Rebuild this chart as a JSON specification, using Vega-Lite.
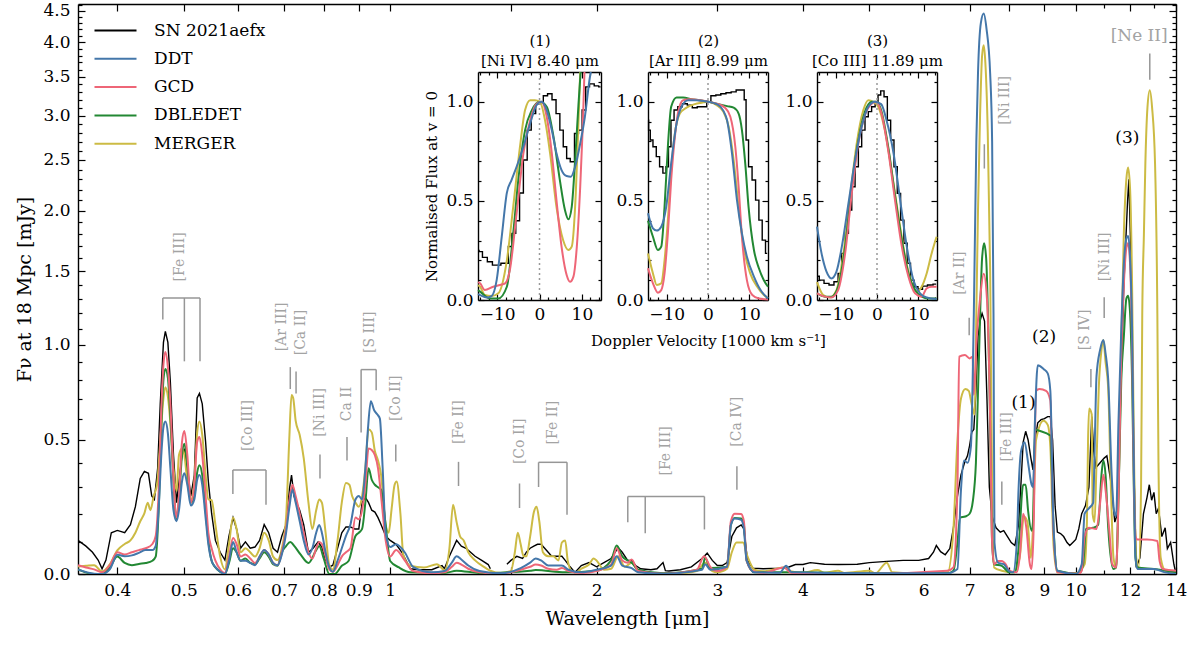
{
  "$schema": "https://vega.github.io/schema/vega-lite/v6.json",
  "width": 1098,
  "height": 570,
  "autosize": {"type": "none"},
  "padding": {"left": 78, "top": 4, "right": 24, "bottom": 79},
  "background": "white",
  "config": {
    "view": {"stroke": null},
    "font": "DejaVu Serif",
    "axis": {
      "grid": false,
      "domainColor": "#000000",
      "domainWidth": 1.4,
      "tickColor": "#000000",
      "tickWidth": 1.2,
      "labelFont": "DejaVu Serif",
      "labelFontSize": 17,
      "labelColor": "#000000",
      "labelOverlap": false,
      "labelFlush": false,
      "titleFont": "DejaVu Serif",
      "titleFontWeight": "normal",
      "titleColor": "#000000"
    },
    "legend": {
      "orient": "none",
      "legendX": 17,
      "legendY": 18,
      "symbolType": "M-3,0H3",
      "symbolSize": 196,
      "symbolStrokeWidth": 2,
      "symbolOffset": 12,
      "labelOffset": 30,
      "labelFont": "DejaVu Serif",
      "labelFontSize": 17,
      "labelColor": "#000000",
      "rowPadding": 10.3
    }
  },
  "datasets": {
    "obs": [
      {"s":"SN 2021aefx","w":0.3505,"f":0.107},{"s":"SN 2021aefx","w":0.36,"f":0.088},{"s":"SN 2021aefx","w":0.368,"f":0.068},{"s":"SN 2021aefx","w":0.375,"f":0.043},{"s":"SN 2021aefx","w":0.38,"f":0.016},{"s":"SN 2021aefx","w":0.385,"f":0.043},{"s":"SN 2021aefx","w":0.392,"f":0.133},{"s":"SN 2021aefx","w":0.4,"f":0.141},{"s":"SN 2021aefx","w":0.41,"f":0.133},{"s":"SN 2021aefx","w":0.418,"f":0.161},{"s":"SN 2021aefx","w":0.425,"f":0.226},{"s":"SN 2021aefx","w":0.432,"f":0.335},{"s":"SN 2021aefx","w":0.438,"f":0.364},{"s":"SN 2021aefx","w":0.444,"f":0.356},{"s":"SN 2021aefx","w":0.449,"f":0.266},{"s":"SN 2021aefx","w":0.453,"f":0.253},{"s":"SN 2021aefx","w":0.458,"f":0.377},{"s":"SN 2021aefx","w":0.462,"f":0.673},{"s":"SN 2021aefx","w":0.467,"f":1.015},{"s":"SN 2021aefx","w":0.47,"f":1.083},{"s":"SN 2021aefx","w":0.474,"f":1.015},{"s":"SN 2021aefx","w":0.478,"f":0.785},{"s":"SN 2021aefx","w":0.483,"f":0.433},{"s":"SN 2021aefx","w":0.488,"f":0.241},{"s":"SN 2021aefx","w":0.492,"f":0.323},{"s":"SN 2021aefx","w":0.497,"f":0.433},{"s":"SN 2021aefx","w":0.501,"f":0.455},{"s":"SN 2021aefx","w":0.506,"f":0.377},{"s":"SN 2021aefx","w":0.512,"f":0.266},{"s":"SN 2021aefx","w":0.518,"f":0.349},{"s":"SN 2021aefx","w":0.523,"f":0.703},{"s":"SN 2021aefx","w":0.527,"f":0.727},{"s":"SN 2021aefx","w":0.532,"f":0.673},{"s":"SN 2021aefx","w":0.538,"f":0.492},{"s":"SN 2021aefx","w":0.543,"f":0.323},{"s":"SN 2021aefx","w":0.549,"f":0.201},{"s":"SN 2021aefx","w":0.556,"f":0.107},{"s":"SN 2021aefx","w":0.565,"f":0.068},{"s":"SN 2021aefx","w":0.574,"f":0.043},{"s":"SN 2021aefx","w":0.582,"f":0.122},{"s":"SN 2021aefx","w":0.59,"f":0.186},{"s":"SN 2021aefx","w":0.597,"f":0.146},{"s":"SN 2021aefx","w":0.605,"f":0.081},{"s":"SN 2021aefx","w":0.615,"f":0.102},{"s":"SN 2021aefx","w":0.625,"f":0.081},{"s":"SN 2021aefx","w":0.635,"f":0.085},{"s":"SN 2021aefx","w":0.645,"f":0.107},{"s":"SN 2021aefx","w":0.655,"f":0.161},{"s":"SN 2021aefx","w":0.665,"f":0.133},{"s":"SN 2021aefx","w":0.675,"f":0.081},{"s":"SN 2021aefx","w":0.685,"f":0.068},{"s":"SN 2021aefx","w":0.695,"f":0.122},{"s":"SN 2021aefx","w":0.705,"f":0.161},{"s":"SN 2021aefx","w":0.713,"f":0.294},{"s":"SN 2021aefx","w":0.718,"f":0.349},{"s":"SN 2021aefx","w":0.724,"f":0.266},{"s":"SN 2021aefx","w":0.73,"f":0.241},{"s":"SN 2021aefx","w":0.738,"f":0.213},{"s":"SN 2021aefx","w":0.748,"f":0.161},{"s":"SN 2021aefx","w":0.76,"f":0.068},{"s":"SN 2021aefx","w":0.772,"f":0.081},{"s":"SN 2021aefx","w":0.785,"f":0.102},{"s":"SN 2021aefx","w":0.795,"f":0.085},{"s":"SN 2021aefx","w":0.805,"f":0.043},{"s":"SN 2021aefx","w":0.815,"f":0.021},{"s":"SN 2021aefx","w":0.825,"f":0.027},{"s":"SN 2021aefx","w":0.838,"f":0.081},{"s":"SN 2021aefx","w":0.85,"f":0.133},{"s":"SN 2021aefx","w":0.862,"f":0.153},{"s":"SN 2021aefx","w":0.875,"f":0.153},{"s":"SN 2021aefx","w":0.888,"f":0.146},{"s":"SN 2021aefx","w":0.9,"f":0.146},{"s":"SN 2021aefx","w":0.91,"f":0.241},{"s":"SN 2021aefx","w":0.92,"f":0.261},{"s":"SN 2021aefx","w":0.93,"f":0.241},{"s":"SN 2021aefx","w":0.94,"f":0.213},{"s":"SN 2021aefx","w":0.95,"f":0.206},{"s":"SN 2021aefx","w":0.96,"f":0.186},{"s":"SN 2021aefx","w":0.97,"f":0.161},{"s":"SN 2021aefx","w":0.985,"f":0.122},{"s":"SN 2021aefx","w":1.0,"f":0.107},{"s":"SN 2021aefx","w":1.02,"f":0.094},{"s":"SN 2021aefx","w":1.04,"f":0.068},{"s":"SN 2021aefx","w":1.07,"f":0.016},{"s":"SN 2021aefx","w":1.1,"f":0.013},{"s":"SN 2021aefx","w":1.15,"f":0.013},{"s":"SN 2021aefx","w":1.19,"f":0.026},{"s":"SN 2021aefx","w":1.2,"f":0.016},{"s":"SN 2021aefx","w":1.22,"f":0.055},{"s":"SN 2021aefx","w":1.235,"f":0.081},{"s":"SN 2021aefx","w":1.25,"f":0.107},{"s":"SN 2021aefx","w":1.27,"f":0.088},{"s":"SN 2021aefx","w":1.29,"f":0.081},{"s":"SN 2021aefx","w":1.31,"f":0.068},{"s":"SN 2021aefx","w":1.33,"f":0.055},{"s":"SN 2021aefx","w":1.36,"f":0.042},{"s":"SN 2021aefx","w":1.39,"f":0.029},{"s":"SN 2021aefx","w":1.4,"f":0.016},{"s":"SN 2021aefx","w":1.44,"f":null},{"s":"SN 2021aefx","w":1.48,"f":0.03},{"s":"SN 2021aefx","w":1.5,"f":0.042},{"s":"SN 2021aefx","w":1.53,"f":0.055},{"s":"SN 2021aefx","w":1.56,"f":0.048},{"s":"SN 2021aefx","w":1.58,"f":0.068},{"s":"SN 2021aefx","w":1.6,"f":0.081},{"s":"SN 2021aefx","w":1.62,"f":0.088},{"s":"SN 2021aefx","w":1.64,"f":0.094},{"s":"SN 2021aefx","w":1.66,"f":0.094},{"s":"SN 2021aefx","w":1.68,"f":0.081},{"s":"SN 2021aefx","w":1.7,"f":0.068},{"s":"SN 2021aefx","w":1.72,"f":0.055},{"s":"SN 2021aefx","w":1.75,"f":0.055},{"s":"SN 2021aefx","w":1.78,"f":0.055},{"s":"SN 2021aefx","w":1.8,"f":0.042},{"s":"SN 2021aefx","w":1.83,"f":0.022},{"s":"SN 2021aefx","w":1.86,"f":0.005},{"s":"SN 2021aefx","w":1.9,"f":0.026},{"s":"SN 2021aefx","w":1.95,"f":0.035},{"s":"SN 2021aefx","w":2.0,"f":0.022},{"s":"SN 2021aefx","w":2.05,"f":0.035},{"s":"SN 2021aefx","w":2.1,"f":0.048},{"s":"SN 2021aefx","w":2.15,"f":0.083},{"s":"SN 2021aefx","w":2.18,"f":0.068},{"s":"SN 2021aefx","w":2.22,"f":0.042},{"s":"SN 2021aefx","w":2.25,"f":0.042},{"s":"SN 2021aefx","w":2.28,"f":0.026},{"s":"SN 2021aefx","w":2.32,"f":0.016},{"s":"SN 2021aefx","w":2.4,"f":0.013},{"s":"SN 2021aefx","w":2.45,"f":0.016},{"s":"SN 2021aefx","w":2.5,"f":0.035},{"s":"SN 2021aefx","w":2.52,"f":0.01},{"s":"SN 2021aefx","w":2.55,"f":0.009},{"s":"SN 2021aefx","w":2.65,"f":0.013},{"s":"SN 2021aefx","w":2.75,"f":0.022},{"s":"SN 2021aefx","w":2.85,"f":0.048},{"s":"SN 2021aefx","w":2.9,"f":0.065},{"s":"SN 2021aefx","w":2.95,"f":0.042},{"s":"SN 2021aefx","w":3.0,"f":0.026},{"s":"SN 2021aefx","w":3.05,"f":0.026},{"s":"SN 2021aefx","w":3.1,"f":0.035},{"s":"SN 2021aefx","w":3.15,"f":0.12},{"s":"SN 2021aefx","w":3.2,"f":0.15},{"s":"SN 2021aefx","w":3.25,"f":0.16},{"s":"SN 2021aefx","w":3.28,"f":0.146},{"s":"SN 2021aefx","w":3.32,"f":0.042},{"s":"SN 2021aefx","w":3.38,"f":0.018},{"s":"SN 2021aefx","w":3.5,"f":0.016},{"s":"SN 2021aefx","w":3.7,"f":0.018},{"s":"SN 2021aefx","w":3.8,"f":0.02},{"s":"SN 2021aefx","w":3.9,"f":0.029},{"s":"SN 2021aefx","w":4.0,"f":0.029},{"s":"SN 2021aefx","w":4.1,"f":0.035},{"s":"SN 2021aefx","w":4.3,"f":0.03},{"s":"SN 2021aefx","w":4.5,"f":0.029},{"s":"SN 2021aefx","w":4.8,"f":0.03},{"s":"SN 2021aefx","w":5.0,"f":0.035},{"s":"SN 2021aefx","w":5.3,"f":0.039},{"s":"SN 2021aefx","w":5.6,"f":0.042},{"s":"SN 2021aefx","w":5.9,"f":0.042},{"s":"SN 2021aefx","w":6.1,"f":0.048},{"s":"SN 2021aefx","w":6.2,"f":0.068},{"s":"SN 2021aefx","w":6.26,"f":0.09},{"s":"SN 2021aefx","w":6.35,"f":0.07},{"s":"SN 2021aefx","w":6.45,"f":0.06},{"s":"SN 2021aefx","w":6.55,"f":0.08},{"s":"SN 2021aefx","w":6.63,"f":0.15},{"s":"SN 2021aefx","w":6.72,"f":0.266},{"s":"SN 2021aefx","w":6.8,"f":0.35},{"s":"SN 2021aefx","w":6.89,"f":0.405},{"s":"SN 2021aefx","w":6.95,"f":0.43},{"s":"SN 2021aefx","w":7.0,"f":0.475},{"s":"SN 2021aefx","w":7.05,"f":0.535},{"s":"SN 2021aefx","w":7.1,"f":0.549},{"s":"SN 2021aefx","w":7.15,"f":0.736},{"s":"SN 2021aefx","w":7.2,"f":1.05},{"s":"SN 2021aefx","w":7.25,"f":1.15},{"s":"SN 2021aefx","w":7.3,"f":1.2},{"s":"SN 2021aefx","w":7.36,"f":1.15},{"s":"SN 2021aefx","w":7.42,"f":0.7},{"s":"SN 2021aefx","w":7.48,"f":0.3},{"s":"SN 2021aefx","w":7.55,"f":0.19},{"s":"SN 2021aefx","w":7.65,"f":0.15},{"s":"SN 2021aefx","w":7.76,"f":0.135},{"s":"SN 2021aefx","w":7.85,"f":0.14},{"s":"SN 2021aefx","w":7.95,"f":0.12},{"s":"SN 2021aefx","w":8.05,"f":0.1},{"s":"SN 2021aefx","w":8.15,"f":0.09},{"s":"SN 2021aefx","w":8.25,"f":0.16},{"s":"SN 2021aefx","w":8.32,"f":0.32},{"s":"SN 2021aefx","w":8.38,"f":0.49},{"s":"SN 2021aefx","w":8.45,"f":0.54},{"s":"SN 2021aefx","w":8.52,"f":0.5},{"s":"SN 2021aefx","w":8.6,"f":0.42},{"s":"SN 2021aefx","w":8.66,"f":0.37},{"s":"SN 2021aefx","w":8.72,"f":0.5},{"s":"SN 2021aefx","w":8.8,"f":0.58},{"s":"SN 2021aefx","w":8.9,"f":0.595},{"s":"SN 2021aefx","w":9.0,"f":0.6},{"s":"SN 2021aefx","w":9.1,"f":0.61},{"s":"SN 2021aefx","w":9.18,"f":0.61},{"s":"SN 2021aefx","w":9.25,"f":0.5},{"s":"SN 2021aefx","w":9.33,"f":0.226},{"s":"SN 2021aefx","w":9.4,"f":0.135},{"s":"SN 2021aefx","w":9.5,"f":0.13},{"s":"SN 2021aefx","w":9.6,"f":0.12},{"s":"SN 2021aefx","w":9.71,"f":0.1},{"s":"SN 2021aefx","w":9.8,"f":0.09},{"s":"SN 2021aefx","w":9.9,"f":0.1},{"s":"SN 2021aefx","w":10.0,"f":0.11},{"s":"SN 2021aefx","w":10.1,"f":0.146},{"s":"SN 2021aefx","w":10.2,"f":0.2},{"s":"SN 2021aefx","w":10.33,"f":0.23},{"s":"SN 2021aefx","w":10.45,"f":0.3},{"s":"SN 2021aefx","w":10.55,"f":0.61},{"s":"SN 2021aefx","w":10.62,"f":0.45},{"s":"SN 2021aefx","w":10.7,"f":0.38},{"s":"SN 2021aefx","w":10.85,"f":0.4},{"s":"SN 2021aefx","w":11.0,"f":0.42},{"s":"SN 2021aefx","w":11.1,"f":0.43},{"s":"SN 2021aefx","w":11.25,"f":0.32},{"s":"SN 2021aefx","w":11.4,"f":0.17},{"s":"SN 2021aefx","w":11.5,"f":0.2},{"s":"SN 2021aefx","w":11.6,"f":0.6},{"s":"SN 2021aefx","w":11.75,"f":1.4},{"s":"SN 2021aefx","w":11.9,"f":2.1},{"s":"SN 2021aefx","w":11.95,"f":2.3},{"s":"SN 2021aefx","w":12.05,"f":1.5},{"s":"SN 2021aefx","w":12.15,"f":0.4},{"s":"SN 2021aefx","w":12.25,"f":0.02},{"s":"SN 2021aefx","w":12.4,"f":0.05},{"s":"SN 2021aefx","w":12.55,"f":0.2},{"s":"SN 2021aefx","w":12.7,"f":0.26},{"s":"SN 2021aefx","w":12.8,"f":0.31},{"s":"SN 2021aefx","w":12.9,"f":0.25},{"s":"SN 2021aefx","w":13.0,"f":0.28},{"s":"SN 2021aefx","w":13.1,"f":0.2},{"s":"SN 2021aefx","w":13.2,"f":0.22},{"s":"SN 2021aefx","w":13.35,"f":0.12},{"s":"SN 2021aefx","w":13.5,"f":0.15},{"s":"SN 2021aefx","w":13.6,"f":0.08},{"s":"SN 2021aefx","w":13.75,"f":0.1},{"s":"SN 2021aefx","w":13.9,"f":0.03},{"s":"SN 2021aefx","w":14.0,"f":0.0}
    ],
    "mod": [
      {"s":"MERGER","w":0.3505,"f":0.023},{"s":"MERGER","w":0.36,"f":0.025},{"s":"MERGER","w":0.37,"f":0.027},{"s":"MERGER","w":0.38,"f":0.008},{"s":"MERGER","w":0.39,"f":0.03},{"s":"MERGER","w":0.4,"f":0.074},{"s":"MERGER","w":0.41,"f":0.095},{"s":"MERGER","w":0.418,"f":0.107},{"s":"MERGER","w":0.425,"f":0.133},{"s":"MERGER","w":0.432,"f":0.173},{"s":"MERGER","w":0.438,"f":0.201},{"s":"MERGER","w":0.443,"f":0.241},{"s":"MERGER","w":0.447,"f":0.213},{"s":"MERGER","w":0.452,"f":0.266},{"s":"MERGER","w":0.457,"f":0.31},{"s":"MERGER","w":0.462,"f":0.492},{"s":"MERGER","w":0.467,"f":0.703},{"s":"MERGER","w":0.47,"f":0.76},{"s":"MERGER","w":0.474,"f":0.71},{"s":"MERGER","w":0.478,"f":0.58},{"s":"MERGER","w":0.483,"f":0.377},{"s":"MERGER","w":0.488,"f":0.286},{"s":"MERGER","w":0.492,"f":0.433},{"s":"MERGER","w":0.497,"f":0.462},{"s":"MERGER","w":0.501,"f":0.433},{"s":"MERGER","w":0.506,"f":0.323},{"s":"MERGER","w":0.512,"f":0.253},{"s":"MERGER","w":0.518,"f":0.323},{"s":"MERGER","w":0.523,"f":0.535},{"s":"MERGER","w":0.527,"f":0.586},{"s":"MERGER","w":0.532,"f":0.523},{"s":"MERGER","w":0.538,"f":0.349},{"s":"MERGER","w":0.543,"f":0.253},{"s":"MERGER","w":0.549,"f":0.25},{"s":"MERGER","w":0.556,"f":0.161},{"s":"MERGER","w":0.565,"f":0.054},{"s":"MERGER","w":0.574,"f":0.014},{"s":"MERGER","w":0.582,"f":0.095},{"s":"MERGER","w":0.59,"f":0.186},{"s":"MERGER","w":0.597,"f":0.146},{"s":"MERGER","w":0.605,"f":0.068},{"s":"MERGER","w":0.615,"f":0.081},{"s":"MERGER","w":0.625,"f":0.068},{"s":"MERGER","w":0.635,"f":0.054},{"s":"MERGER","w":0.645,"f":0.081},{"s":"MERGER","w":0.655,"f":0.133},{"s":"MERGER","w":0.665,"f":0.107},{"s":"MERGER","w":0.675,"f":0.054},{"s":"MERGER","w":0.685,"f":0.043},{"s":"MERGER","w":0.695,"f":0.081},{"s":"MERGER","w":0.705,"f":0.186},{"s":"MERGER","w":0.713,"f":0.523},{"s":"MERGER","w":0.718,"f":0.719},{"s":"MERGER","w":0.722,"f":0.703},{"s":"MERGER","w":0.728,"f":0.59},{"s":"MERGER","w":0.738,"f":0.523},{"s":"MERGER","w":0.748,"f":0.42},{"s":"MERGER","w":0.76,"f":0.241},{"s":"MERGER","w":0.77,"f":0.146},{"s":"MERGER","w":0.78,"f":0.213},{"s":"MERGER","w":0.788,"f":0.253},{"s":"MERGER","w":0.795,"f":0.241},{"s":"MERGER","w":0.805,"f":0.133},{"s":"MERGER","w":0.815,"f":0.027},{"s":"MERGER","w":0.825,"f":0.014},{"s":"MERGER","w":0.838,"f":0.107},{"s":"MERGER","w":0.85,"f":0.241},{"s":"MERGER","w":0.862,"f":0.317},{"s":"MERGER","w":0.872,"f":0.31},{"s":"MERGER","w":0.88,"f":0.266},{"s":"MERGER","w":0.89,"f":0.241},{"s":"MERGER","w":0.9,"f":0.226},{"s":"MERGER","w":0.91,"f":0.266},{"s":"MERGER","w":0.92,"f":0.377},{"s":"MERGER","w":0.93,"f":0.549},{"s":"MERGER","w":0.94,"f":0.535},{"s":"MERGER","w":0.95,"f":0.45},{"s":"MERGER","w":0.96,"f":0.41},{"s":"MERGER","w":0.97,"f":0.349},{"s":"MERGER","w":0.985,"f":0.161},{"s":"MERGER","w":0.995,"f":0.133},{"s":"MERGER","w":1.005,"f":0.22},{"s":"MERGER","w":1.015,"f":0.31},{"s":"MERGER","w":1.022,"f":0.323},{"s":"MERGER","w":1.035,"f":0.2},{"s":"MERGER","w":1.045,"f":0.06},{"s":"MERGER","w":1.07,"f":0.025},{"s":"MERGER","w":1.12,"f":0.02},{"s":"MERGER","w":1.17,"f":0.03},{"s":"MERGER","w":1.2,"f":0.012},{"s":"MERGER","w":1.22,"f":0.08},{"s":"MERGER","w":1.235,"f":0.233},{"s":"MERGER","w":1.25,"f":0.17},{"s":"MERGER","w":1.265,"f":0.12},{"s":"MERGER","w":1.28,"f":0.107},{"s":"MERGER","w":1.3,"f":0.068},{"s":"MERGER","w":1.33,"f":0.042},{"s":"MERGER","w":1.37,"f":0.022},{"s":"MERGER","w":1.4,"f":0.01},{"s":"MERGER","w":1.45,"f":0.003},{"s":"MERGER","w":1.5,"f":0.009},{"s":"MERGER","w":1.52,"f":0.068},{"s":"MERGER","w":1.535,"f":0.133},{"s":"MERGER","w":1.55,"f":0.094},{"s":"MERGER","w":1.565,"f":0.055},{"s":"MERGER","w":1.58,"f":0.055},{"s":"MERGER","w":1.6,"f":0.12},{"s":"MERGER","w":1.62,"f":0.205},{"s":"MERGER","w":1.635,"f":0.226},{"s":"MERGER","w":1.65,"f":0.173},{"s":"MERGER","w":1.67,"f":0.068},{"s":"MERGER","w":1.7,"f":0.055},{"s":"MERGER","w":1.73,"f":0.055},{"s":"MERGER","w":1.76,"f":0.042},{"s":"MERGER","w":1.78,"f":0.1},{"s":"MERGER","w":1.8,"f":0.107},{"s":"MERGER","w":1.815,"f":0.042},{"s":"MERGER","w":1.84,"f":0.009},{"s":"MERGER","w":1.87,"f":0.005},{"s":"MERGER","w":1.9,"f":0.016},{"s":"MERGER","w":1.95,"f":0.029},{"s":"MERGER","w":1.98,"f":0.048},{"s":"MERGER","w":2.0,"f":0.042},{"s":"MERGER","w":2.05,"f":0.013},{"s":"MERGER","w":2.1,"f":0.016},{"s":"MERGER","w":2.15,"f":0.055},{"s":"MERGER","w":2.2,"f":0.022},{"s":"MERGER","w":2.25,"f":0.035},{"s":"MERGER","w":2.3,"f":0.009},{"s":"MERGER","w":2.4,"f":0.003},{"s":"MERGER","w":2.6,"f":0.001},{"s":"MERGER","w":2.8,"f":0.009},{"s":"MERGER","w":2.88,"f":0.035},{"s":"MERGER","w":2.95,"f":0.009},{"s":"MERGER","w":3.0,"f":0.005},{"s":"MERGER","w":3.1,"f":0.016},{"s":"MERGER","w":3.15,"f":0.068},{"s":"MERGER","w":3.2,"f":0.1},{"s":"MERGER","w":3.27,"f":0.1},{"s":"MERGER","w":3.32,"f":0.055},{"s":"MERGER","w":3.4,"f":0.013},{"s":"MERGER","w":3.5,"f":0.008},{"s":"MERGER","w":3.7,"f":0.018},{"s":"MERGER","w":3.75,"f":0.02},{"s":"MERGER","w":3.85,"f":0.008},{"s":"MERGER","w":4.0,"f":0.004},{"s":"MERGER","w":4.2,"f":0.012},{"s":"MERGER","w":4.3,"f":0.004},{"s":"MERGER","w":4.5,"f":0.01},{"s":"MERGER","w":4.6,"f":0.003},{"s":"MERGER","w":5.0,"f":0.01},{"s":"MERGER","w":5.1,"f":0.002},{"s":"MERGER","w":5.3,"f":0.035},{"s":"MERGER","w":5.4,"f":0.005},{"s":"MERGER","w":5.8,"f":0.002},{"s":"MERGER","w":6.2,"f":0.003},{"s":"MERGER","w":6.5,"f":0.005},{"s":"MERGER","w":6.63,"f":0.146},{"s":"MERGER","w":6.72,"f":0.5},{"s":"MERGER","w":6.8,"f":0.7},{"s":"MERGER","w":6.9,"f":0.75},{"s":"MERGER","w":6.98,"f":0.74},{"s":"MERGER","w":7.05,"f":0.67},{"s":"MERGER","w":7.12,"f":0.62},{"s":"MERGER","w":7.16,"f":1.2},{"s":"MERGER","w":7.2,"f":2.0},{"s":"MERGER","w":7.25,"f":3.0},{"s":"MERGER","w":7.3,"f":3.8},{"s":"MERGER","w":7.34,"f":3.95},{"s":"MERGER","w":7.38,"f":3.7},{"s":"MERGER","w":7.44,"f":2.8},{"s":"MERGER","w":7.5,"f":1.5},{"s":"MERGER","w":7.55,"f":0.3},{"s":"MERGER","w":7.6,"f":0.02},{"s":"MERGER","w":7.8,"f":0.01},{"s":"MERGER","w":8.1,"f":0.005},{"s":"MERGER","w":8.28,"f":0.05},{"s":"MERGER","w":8.4,"f":0.19},{"s":"MERGER","w":8.5,"f":0.17},{"s":"MERGER","w":8.6,"f":0.05},{"s":"MERGER","w":8.66,"f":0.15},{"s":"MERGER","w":8.75,"f":0.5},{"s":"MERGER","w":8.97,"f":0.59},{"s":"MERGER","w":9.1,"f":0.57},{"s":"MERGER","w":9.18,"f":0.47},{"s":"MERGER","w":9.28,"f":0.09},{"s":"MERGER","w":9.4,"f":0.005},{"s":"MERGER","w":10.0,"f":0.002},{"s":"MERGER","w":10.3,"f":0.03},{"s":"MERGER","w":10.38,"f":0.17},{"s":"MERGER","w":10.42,"f":0.5},{"s":"MERGER","w":10.46,"f":0.65},{"s":"MERGER","w":10.55,"f":0.62},{"s":"MERGER","w":10.58,"f":0.2},{"s":"MERGER","w":10.65,"f":0.17},{"s":"MERGER","w":10.72,"f":0.4},{"s":"MERGER","w":10.8,"f":0.75},{"s":"MERGER","w":10.9,"f":0.97},{"s":"MERGER","w":10.97,"f":1.03},{"s":"MERGER","w":11.05,"f":0.9},{"s":"MERGER","w":11.15,"f":0.75},{"s":"MERGER","w":11.25,"f":0.3},{"s":"MERGER","w":11.35,"f":0.05},{"s":"MERGER","w":11.45,"f":0.02},{"s":"MERGER","w":11.55,"f":0.3},{"s":"MERGER","w":11.65,"f":1.0},{"s":"MERGER","w":11.75,"f":1.8},{"s":"MERGER","w":11.85,"f":2.3},{"s":"MERGER","w":11.92,"f":2.42},{"s":"MERGER","w":12.0,"f":2.2},{"s":"MERGER","w":12.08,"f":1.4},{"s":"MERGER","w":12.15,"f":0.5},{"s":"MERGER","w":12.25,"f":0.05},{"s":"MERGER","w":12.35,"f":0.02},{"s":"MERGER","w":12.45,"f":0.3},{"s":"MERGER","w":12.5,"f":1.2},{"s":"MERGER","w":12.57,"f":1.8},{"s":"MERGER","w":12.63,"f":2.45},{"s":"MERGER","w":12.72,"f":3.1},{"s":"MERGER","w":12.82,"f":3.32},{"s":"MERGER","w":12.92,"f":3.1},{"s":"MERGER","w":13.05,"f":2.45},{"s":"MERGER","w":13.15,"f":1.2},{"s":"MERGER","w":13.2,"f":0.4},{"s":"MERGER","w":13.3,"f":0.05},{"s":"MERGER","w":13.5,"f":0.01},{"s":"MERGER","w":14.0,"f":0.0},
      {"s":"DBLEDET","w":0.3505,"f":0.014},{"s":"DBLEDET","w":0.37,"f":0.0},{"s":"DBLEDET","w":0.38,"f":0.0},{"s":"DBLEDET","w":0.39,"f":0.02},{"s":"DBLEDET","w":0.4,"f":0.054},{"s":"DBLEDET","w":0.41,"f":0.034},{"s":"DBLEDET","w":0.42,"f":0.027},{"s":"DBLEDET","w":0.43,"f":0.031},{"s":"DBLEDET","w":0.44,"f":0.034},{"s":"DBLEDET","w":0.45,"f":0.041},{"s":"DBLEDET","w":0.455,"f":0.054},{"s":"DBLEDET","w":0.46,"f":0.241},{"s":"DBLEDET","w":0.464,"f":0.59},{"s":"DBLEDET","w":0.467,"f":0.8},{"s":"DBLEDET","w":0.47,"f":0.86},{"s":"DBLEDET","w":0.474,"f":0.81},{"s":"DBLEDET","w":0.478,"f":0.61},{"s":"DBLEDET","w":0.483,"f":0.323},{"s":"DBLEDET","w":0.488,"f":0.18},{"s":"DBLEDET","w":0.492,"f":0.253},{"s":"DBLEDET","w":0.497,"f":0.433},{"s":"DBLEDET","w":0.501,"f":0.483},{"s":"DBLEDET","w":0.506,"f":0.39},{"s":"DBLEDET","w":0.512,"f":0.241},{"s":"DBLEDET","w":0.518,"f":0.266},{"s":"DBLEDET","w":0.523,"f":0.36},{"s":"DBLEDET","w":0.527,"f":0.39},{"s":"DBLEDET","w":0.532,"f":0.349},{"s":"DBLEDET","w":0.538,"f":0.213},{"s":"DBLEDET","w":0.543,"f":0.107},{"s":"DBLEDET","w":0.549,"f":0.041},{"s":"DBLEDET","w":0.556,"f":0.02},{"s":"DBLEDET","w":0.565,"f":0.007},{"s":"DBLEDET","w":0.574,"f":0.0},{"s":"DBLEDET","w":0.582,"f":0.034},{"s":"DBLEDET","w":0.59,"f":0.081},{"s":"DBLEDET","w":0.597,"f":0.068},{"s":"DBLEDET","w":0.605,"f":0.041},{"s":"DBLEDET","w":0.615,"f":0.048},{"s":"DBLEDET","w":0.625,"f":0.034},{"s":"DBLEDET","w":0.635,"f":0.03},{"s":"DBLEDET","w":0.645,"f":0.048},{"s":"DBLEDET","w":0.655,"f":0.068},{"s":"DBLEDET","w":0.665,"f":0.054},{"s":"DBLEDET","w":0.675,"f":0.03},{"s":"DBLEDET","w":0.685,"f":0.025},{"s":"DBLEDET","w":0.695,"f":0.068},{"s":"DBLEDET","w":0.705,"f":0.088},{"s":"DBLEDET","w":0.715,"f":0.102},{"s":"DBLEDET","w":0.725,"f":0.088},{"s":"DBLEDET","w":0.74,"f":0.061},{"s":"DBLEDET","w":0.76,"f":0.034},{"s":"DBLEDET","w":0.78,"f":0.075},{"s":"DBLEDET","w":0.788,"f":0.088},{"s":"DBLEDET","w":0.8,"f":0.048},{"s":"DBLEDET","w":0.815,"f":0.0},{"s":"DBLEDET","w":0.83,"f":0.0},{"s":"DBLEDET","w":0.85,"f":0.025},{"s":"DBLEDET","w":0.87,"f":0.041},{"s":"DBLEDET","w":0.89,"f":0.122},{"s":"DBLEDET","w":0.9,"f":0.133},{"s":"DBLEDET","w":0.91,"f":0.146},{"s":"DBLEDET","w":0.92,"f":0.241},{"s":"DBLEDET","w":0.93,"f":0.377},{"s":"DBLEDET","w":0.94,"f":0.33},{"s":"DBLEDET","w":0.95,"f":0.31},{"s":"DBLEDET","w":0.96,"f":0.3},{"s":"DBLEDET","w":0.97,"f":0.29},{"s":"DBLEDET","w":0.985,"f":0.16},{"s":"DBLEDET","w":1.0,"f":0.04},{"s":"DBLEDET","w":1.03,"f":0.02},{"s":"DBLEDET","w":1.07,"f":0.005},{"s":"DBLEDET","w":1.2,"f":0.003},{"s":"DBLEDET","w":1.25,"f":0.01},{"s":"DBLEDET","w":1.35,"f":0.003},{"s":"DBLEDET","w":1.6,"f":0.01},{"s":"DBLEDET","w":1.63,"f":0.012},{"s":"DBLEDET","w":1.8,"f":0.005},{"s":"DBLEDET","w":2.0,"f":0.01},{"s":"DBLEDET","w":2.1,"f":0.042},{"s":"DBLEDET","w":2.14,"f":0.09},{"s":"DBLEDET","w":2.18,"f":0.055},{"s":"DBLEDET","w":2.22,"f":0.042},{"s":"DBLEDET","w":2.25,"f":0.035},{"s":"DBLEDET","w":2.3,"f":0.013},{"s":"DBLEDET","w":2.5,"f":0.002},{"s":"DBLEDET","w":2.85,"f":0.016},{"s":"DBLEDET","w":2.88,"f":0.05},{"s":"DBLEDET","w":2.93,"f":0.018},{"s":"DBLEDET","w":3.1,"f":0.022},{"s":"DBLEDET","w":3.14,"f":0.16},{"s":"DBLEDET","w":3.18,"f":0.185},{"s":"DBLEDET","w":3.25,"f":0.183},{"s":"DBLEDET","w":3.28,"f":0.16},{"s":"DBLEDET","w":3.31,"f":0.042},{"s":"DBLEDET","w":3.4,"f":0.005},{"s":"DBLEDET","w":3.8,"f":0.005},{"s":"DBLEDET","w":5.0,"f":0.002},{"s":"DBLEDET","w":6.5,"f":0.002},{"s":"DBLEDET","w":6.63,"f":0.01},{"s":"DBLEDET","w":6.72,"f":0.1},{"s":"DBLEDET","w":6.78,"f":0.186},{"s":"DBLEDET","w":6.9,"f":0.19},{"s":"DBLEDET","w":7.0,"f":0.2},{"s":"DBLEDET","w":7.08,"f":0.25},{"s":"DBLEDET","w":7.15,"f":0.4},{"s":"DBLEDET","w":7.22,"f":0.9},{"s":"DBLEDET","w":7.3,"f":1.6},{"s":"DBLEDET","w":7.35,"f":1.72},{"s":"DBLEDET","w":7.4,"f":1.6},{"s":"DBLEDET","w":7.48,"f":0.8},{"s":"DBLEDET","w":7.55,"f":0.1},{"s":"DBLEDET","w":7.6,"f":0.03},{"s":"DBLEDET","w":7.8,"f":0.025},{"s":"DBLEDET","w":8.0,"f":0.005},{"s":"DBLEDET","w":8.15,"f":0.005},{"s":"DBLEDET","w":8.25,"f":0.08},{"s":"DBLEDET","w":8.38,"f":0.31},{"s":"DBLEDET","w":8.45,"f":0.31},{"s":"DBLEDET","w":8.52,"f":0.21},{"s":"DBLEDET","w":8.62,"f":0.14},{"s":"DBLEDET","w":8.66,"f":0.17},{"s":"DBLEDET","w":8.72,"f":0.55},{"s":"DBLEDET","w":8.8,"f":0.545},{"s":"DBLEDET","w":9.18,"f":0.52},{"s":"DBLEDET","w":9.28,"f":0.15},{"s":"DBLEDET","w":9.4,"f":0.01},{"s":"DBLEDET","w":10.1,"f":0.001},{"s":"DBLEDET","w":10.25,"f":0.03},{"s":"DBLEDET","w":10.35,"f":0.146},{"s":"DBLEDET","w":10.6,"f":0.15},{"s":"DBLEDET","w":10.78,"f":0.16},{"s":"DBLEDET","w":10.9,"f":0.35},{"s":"DBLEDET","w":10.97,"f":0.41},{"s":"DBLEDET","w":11.05,"f":0.35},{"s":"DBLEDET","w":11.15,"f":0.15},{"s":"DBLEDET","w":11.34,"f":0.015},{"s":"DBLEDET","w":11.45,"f":0.02},{"s":"DBLEDET","w":11.55,"f":0.3},{"s":"DBLEDET","w":11.65,"f":0.8},{"s":"DBLEDET","w":11.75,"f":1.05},{"s":"DBLEDET","w":11.85,"f":1.3},{"s":"DBLEDET","w":11.92,"f":1.32},{"s":"DBLEDET","w":12.0,"f":1.2},{"s":"DBLEDET","w":12.08,"f":0.8},{"s":"DBLEDET","w":12.15,"f":0.3},{"s":"DBLEDET","w":12.22,"f":0.05},{"s":"DBLEDET","w":12.3,"f":0.02},{"s":"DBLEDET","w":13.0,"f":0.015},{"s":"DBLEDET","w":14.0,"f":0.005},
      {"s":"GCD","w":0.3505,"f":0.027},{"s":"GCD","w":0.36,"f":0.02},{"s":"GCD","w":0.37,"f":0.014},{"s":"GCD","w":0.38,"f":0.005},{"s":"GCD","w":0.39,"f":0.027},{"s":"GCD","w":0.4,"f":0.068},{"s":"GCD","w":0.41,"f":0.061},{"s":"GCD","w":0.42,"f":0.068},{"s":"GCD","w":0.43,"f":0.075},{"s":"GCD","w":0.44,"f":0.081},{"s":"GCD","w":0.45,"f":0.095},{"s":"GCD","w":0.455,"f":0.122},{"s":"GCD","w":0.46,"f":0.31},{"s":"GCD","w":0.464,"f":0.673},{"s":"GCD","w":0.467,"f":0.886},{"s":"GCD","w":0.47,"f":0.957},{"s":"GCD","w":0.474,"f":0.87},{"s":"GCD","w":0.478,"f":0.673},{"s":"GCD","w":0.483,"f":0.335},{"s":"GCD","w":0.488,"f":0.186},{"s":"GCD","w":0.492,"f":0.266},{"s":"GCD","w":0.497,"f":0.49},{"s":"GCD","w":0.501,"f":0.541},{"s":"GCD","w":0.506,"f":0.433},{"s":"GCD","w":0.512,"f":0.241},{"s":"GCD","w":0.518,"f":0.31},{"s":"GCD","w":0.523,"f":0.492},{"s":"GCD","w":0.527,"f":0.514},{"s":"GCD","w":0.532,"f":0.433},{"s":"GCD","w":0.538,"f":0.266},{"s":"GCD","w":0.543,"f":0.133},{"s":"GCD","w":0.549,"f":0.081},{"s":"GCD","w":0.556,"f":0.041},{"s":"GCD","w":0.565,"f":0.014},{"s":"GCD","w":0.574,"f":0.003},{"s":"GCD","w":0.582,"f":0.054},{"s":"GCD","w":0.59,"f":0.115},{"s":"GCD","w":0.597,"f":0.095},{"s":"GCD","w":0.605,"f":0.054},{"s":"GCD","w":0.615,"f":0.061},{"s":"GCD","w":0.625,"f":0.048},{"s":"GCD","w":0.635,"f":0.034},{"s":"GCD","w":0.645,"f":0.054},{"s":"GCD","w":0.655,"f":0.075},{"s":"GCD","w":0.665,"f":0.061},{"s":"GCD","w":0.675,"f":0.034},{"s":"GCD","w":0.685,"f":0.027},{"s":"GCD","w":0.695,"f":0.068},{"s":"GCD","w":0.705,"f":0.146},{"s":"GCD","w":0.713,"f":0.253},{"s":"GCD","w":0.72,"f":0.31},{"s":"GCD","w":0.728,"f":0.266},{"s":"GCD","w":0.738,"f":0.2},{"s":"GCD","w":0.748,"f":0.133},{"s":"GCD","w":0.76,"f":0.068},{"s":"GCD","w":0.77,"f":0.048},{"s":"GCD","w":0.78,"f":0.081},{"s":"GCD","w":0.788,"f":0.102},{"s":"GCD","w":0.795,"f":0.095},{"s":"GCD","w":0.805,"f":0.054},{"s":"GCD","w":0.815,"f":0.014},{"s":"GCD","w":0.825,"f":0.007},{"s":"GCD","w":0.838,"f":0.027},{"s":"GCD","w":0.85,"f":0.054},{"s":"GCD","w":0.862,"f":0.068},{"s":"GCD","w":0.875,"f":0.081},{"s":"GCD","w":0.89,"f":0.186},{"s":"GCD","w":0.9,"f":0.18},{"s":"GCD","w":0.91,"f":0.213},{"s":"GCD","w":0.92,"f":0.31},{"s":"GCD","w":0.93,"f":0.462},{"s":"GCD","w":0.94,"f":0.455},{"s":"GCD","w":0.95,"f":0.433},{"s":"GCD","w":0.96,"f":0.377},{"s":"GCD","w":0.97,"f":0.266},{"s":"GCD","w":0.985,"f":0.107},{"s":"GCD","w":1.0,"f":0.054},{"s":"GCD","w":1.02,"f":0.075},{"s":"GCD","w":1.05,"f":0.042},{"s":"GCD","w":1.08,"f":0.009},{"s":"GCD","w":1.15,"f":0.002},{"s":"GCD","w":1.2,"f":0.005},{"s":"GCD","w":1.23,"f":0.022},{"s":"GCD","w":1.25,"f":0.035},{"s":"GCD","w":1.27,"f":0.029},{"s":"GCD","w":1.3,"f":0.016},{"s":"GCD","w":1.35,"f":0.005},{"s":"GCD","w":1.45,"f":0.001},{"s":"GCD","w":1.5,"f":0.005},{"s":"GCD","w":1.55,"f":0.013},{"s":"GCD","w":1.6,"f":0.022},{"s":"GCD","w":1.63,"f":0.029},{"s":"GCD","w":1.66,"f":0.026},{"s":"GCD","w":1.7,"f":0.016},{"s":"GCD","w":1.75,"f":0.013},{"s":"GCD","w":1.78,"f":0.018},{"s":"GCD","w":1.82,"f":0.009},{"s":"GCD","w":1.9,"f":0.003},{"s":"GCD","w":2.0,"f":0.009},{"s":"GCD","w":2.1,"f":0.029},{"s":"GCD","w":2.14,"f":0.081},{"s":"GCD","w":2.18,"f":0.042},{"s":"GCD","w":2.22,"f":0.035},{"s":"GCD","w":2.25,"f":0.045},{"s":"GCD","w":2.3,"f":0.009},{"s":"GCD","w":2.5,"f":0.001},{"s":"GCD","w":2.8,"f":0.013},{"s":"GCD","w":2.87,"f":0.055},{"s":"GCD","w":2.93,"f":0.022},{"s":"GCD","w":3.0,"f":0.009},{"s":"GCD","w":3.1,"f":0.022},{"s":"GCD","w":3.14,"f":0.173},{"s":"GCD","w":3.18,"f":0.2},{"s":"GCD","w":3.25,"f":0.199},{"s":"GCD","w":3.28,"f":0.173},{"s":"GCD","w":3.31,"f":0.042},{"s":"GCD","w":3.38,"f":0.009},{"s":"GCD","w":3.5,"f":0.003},{"s":"GCD","w":3.75,"f":0.02},{"s":"GCD","w":3.85,"f":0.003},{"s":"GCD","w":5.0,"f":0.001},{"s":"GCD","w":6.49,"f":0.01},{"s":"GCD","w":6.63,"f":0.02},{"s":"GCD","w":6.72,"f":0.3},{"s":"GCD","w":6.76,"f":0.93},{"s":"GCD","w":6.89,"f":0.94},{"s":"GCD","w":7.0,"f":0.92},{"s":"GCD","w":7.07,"f":0.93},{"s":"GCD","w":7.1,"f":0.72},{"s":"GCD","w":7.17,"f":1.05},{"s":"GCD","w":7.25,"f":1.3},{"s":"GCD","w":7.34,"f":1.48},{"s":"GCD","w":7.42,"f":1.3},{"s":"GCD","w":7.5,"f":0.6},{"s":"GCD","w":7.55,"f":0.1},{"s":"GCD","w":7.6,"f":0.03},{"s":"GCD","w":7.7,"f":0.04},{"s":"GCD","w":7.8,"f":0.04},{"s":"GCD","w":7.9,"f":0.03},{"s":"GCD","w":8.0,"f":0.01},{"s":"GCD","w":8.2,"f":0.005},{"s":"GCD","w":8.28,"f":0.05},{"s":"GCD","w":8.38,"f":0.2},{"s":"GCD","w":8.47,"f":0.15},{"s":"GCD","w":8.57,"f":0.03},{"s":"GCD","w":8.62,"f":0.015},{"s":"GCD","w":8.68,"f":0.15},{"s":"GCD","w":8.75,"f":0.74},{"s":"GCD","w":8.85,"f":0.75},{"s":"GCD","w":9.05,"f":0.74},{"s":"GCD","w":9.18,"f":0.69},{"s":"GCD","w":9.28,"f":0.13},{"s":"GCD","w":9.4,"f":0.005},{"s":"GCD","w":10.1,"f":0.001},{"s":"GCD","w":10.2,"f":0.01},{"s":"GCD","w":10.3,"f":0.12},{"s":"GCD","w":10.45,"f":0.15},{"s":"GCD","w":10.72,"f":0.146},{"s":"GCD","w":10.85,"f":0.24},{"s":"GCD","w":10.97,"f":0.35},{"s":"GCD","w":11.05,"f":0.29},{"s":"GCD","w":11.2,"f":0.13},{"s":"GCD","w":11.3,"f":0.03},{"s":"GCD","w":11.45,"f":0.02},{"s":"GCD","w":11.55,"f":0.3},{"s":"GCD","w":11.65,"f":0.95},{"s":"GCD","w":11.75,"f":1.4},{"s":"GCD","w":11.85,"f":1.68},{"s":"GCD","w":11.92,"f":1.72},{"s":"GCD","w":12.0,"f":1.55},{"s":"GCD","w":12.08,"f":1.0},{"s":"GCD","w":12.15,"f":0.35},{"s":"GCD","w":12.22,"f":0.12},{"s":"GCD","w":12.3,"f":0.11},{"s":"GCD","w":12.7,"f":0.11},{"s":"GCD","w":13.15,"f":0.105},{"s":"GCD","w":13.25,"f":0.04},{"s":"GCD","w":13.4,"f":0.015},{"s":"GCD","w":14.0,"f":0.01},
      {"s":"DDT","w":0.3505,"f":0.014},{"s":"DDT","w":0.37,"f":0.001},{"s":"DDT","w":0.38,"f":0.0},{"s":"DDT","w":0.39,"f":0.014},{"s":"DDT","w":0.4,"f":0.06},{"s":"DDT","w":0.41,"f":0.055},{"s":"DDT","w":0.42,"f":0.058},{"s":"DDT","w":0.43,"f":0.066},{"s":"DDT","w":0.44,"f":0.075},{"s":"DDT","w":0.45,"f":0.075},{"s":"DDT","w":0.455,"f":0.089},{"s":"DDT","w":0.46,"f":0.24},{"s":"DDT","w":0.464,"f":0.45},{"s":"DDT","w":0.467,"f":0.56},{"s":"DDT","w":0.47,"f":0.586},{"s":"DDT","w":0.474,"f":0.53},{"s":"DDT","w":0.478,"f":0.377},{"s":"DDT","w":0.483,"f":0.213},{"s":"DDT","w":0.488,"f":0.173},{"s":"DDT","w":0.492,"f":0.213},{"s":"DDT","w":0.497,"f":0.323},{"s":"DDT","w":0.501,"f":0.356},{"s":"DDT","w":0.506,"f":0.31},{"s":"DDT","w":0.512,"f":0.23},{"s":"DDT","w":0.518,"f":0.253},{"s":"DDT","w":0.523,"f":0.33},{"s":"DDT","w":0.527,"f":0.349},{"s":"DDT","w":0.532,"f":0.31},{"s":"DDT","w":0.538,"f":0.186},{"s":"DDT","w":0.543,"f":0.095},{"s":"DDT","w":0.549,"f":0.041},{"s":"DDT","w":0.556,"f":0.021},{"s":"DDT","w":0.565,"f":0.007},{"s":"DDT","w":0.574,"f":0.0},{"s":"DDT","w":0.582,"f":0.041},{"s":"DDT","w":0.59,"f":0.102},{"s":"DDT","w":0.597,"f":0.068},{"s":"DDT","w":0.605,"f":0.041},{"s":"DDT","w":0.615,"f":0.041},{"s":"DDT","w":0.625,"f":0.034},{"s":"DDT","w":0.635,"f":0.027},{"s":"DDT","w":0.645,"f":0.054},{"s":"DDT","w":0.655,"f":0.075},{"s":"DDT","w":0.665,"f":0.061},{"s":"DDT","w":0.675,"f":0.034},{"s":"DDT","w":0.685,"f":0.027},{"s":"DDT","w":0.695,"f":0.061},{"s":"DDT","w":0.705,"f":0.133},{"s":"DDT","w":0.713,"f":0.226},{"s":"DDT","w":0.72,"f":0.29},{"s":"DDT","w":0.728,"f":0.241},{"s":"DDT","w":0.738,"f":0.173},{"s":"DDT","w":0.748,"f":0.107},{"s":"DDT","w":0.76,"f":0.061},{"s":"DDT","w":0.77,"f":0.081},{"s":"DDT","w":0.78,"f":0.133},{"s":"DDT","w":0.788,"f":0.16},{"s":"DDT","w":0.795,"f":0.133},{"s":"DDT","w":0.805,"f":0.068},{"s":"DDT","w":0.815,"f":0.021},{"s":"DDT","w":0.825,"f":0.007},{"s":"DDT","w":0.838,"f":0.041},{"s":"DDT","w":0.85,"f":0.081},{"s":"DDT","w":0.862,"f":0.122},{"s":"DDT","w":0.875,"f":0.161},{"s":"DDT","w":0.89,"f":0.253},{"s":"DDT","w":0.9,"f":0.266},{"s":"DDT","w":0.91,"f":0.253},{"s":"DDT","w":0.92,"f":0.377},{"s":"DDT","w":0.928,"f":0.55},{"s":"DDT","w":0.937,"f":0.687},{"s":"DDT","w":0.948,"f":0.64},{"s":"DDT","w":0.958,"f":0.62},{"s":"DDT","w":0.966,"f":0.6},{"s":"DDT","w":0.975,"f":0.38},{"s":"DDT","w":0.985,"f":0.133},{"s":"DDT","w":1.0,"f":0.085},{"s":"DDT","w":1.02,"f":0.094},{"s":"DDT","w":1.05,"f":0.068},{"s":"DDT","w":1.08,"f":0.022},{"s":"DDT","w":1.15,"f":0.005},{"s":"DDT","w":1.2,"f":0.009},{"s":"DDT","w":1.23,"f":0.035},{"s":"DDT","w":1.25,"f":0.055},{"s":"DDT","w":1.27,"f":0.045},{"s":"DDT","w":1.3,"f":0.026},{"s":"DDT","w":1.35,"f":0.009},{"s":"DDT","w":1.45,"f":0.002},{"s":"DDT","w":1.55,"f":0.018},{"s":"DDT","w":1.6,"f":0.035},{"s":"DDT","w":1.63,"f":0.048},{"s":"DDT","w":1.66,"f":0.042},{"s":"DDT","w":1.7,"f":0.026},{"s":"DDT","w":1.78,"f":0.026},{"s":"DDT","w":1.82,"f":0.013},{"s":"DDT","w":1.9,"f":0.005},{"s":"DDT","w":2.0,"f":0.013},{"s":"DDT","w":2.1,"f":0.026},{"s":"DDT","w":2.14,"f":0.055},{"s":"DDT","w":2.18,"f":0.026},{"s":"DDT","w":2.25,"f":0.018},{"s":"DDT","w":2.3,"f":0.005},{"s":"DDT","w":2.5,"f":0.001},{"s":"DDT","w":2.85,"f":0.013},{"s":"DDT","w":2.88,"f":0.03},{"s":"DDT","w":2.93,"f":0.013},{"s":"DDT","w":3.1,"f":0.022},{"s":"DDT","w":3.14,"f":0.16},{"s":"DDT","w":3.18,"f":0.183},{"s":"DDT","w":3.25,"f":0.178},{"s":"DDT","w":3.28,"f":0.146},{"s":"DDT","w":3.31,"f":0.042},{"s":"DDT","w":3.4,"f":0.005},{"s":"DDT","w":3.7,"f":0.004},{"s":"DDT","w":3.78,"f":0.025},{"s":"DDT","w":3.85,"f":0.005},{"s":"DDT","w":5.0,"f":0.002},{"s":"DDT","w":6.5,"f":0.002},{"s":"DDT","w":6.72,"f":0.015},{"s":"DDT","w":6.8,"f":0.29},{"s":"DDT","w":6.87,"f":0.41},{"s":"DDT","w":6.95,"f":0.4},{"s":"DDT","w":7.03,"f":0.47},{"s":"DDT","w":7.1,"f":1.2},{"s":"DDT","w":7.16,"f":2.7},{"s":"DDT","w":7.2,"f":3.55},{"s":"DDT","w":7.27,"f":4.3},{"s":"DDT","w":7.34,"f":4.45},{"s":"DDT","w":7.41,"f":4.2},{"s":"DDT","w":7.5,"f":3.55},{"s":"DDT","w":7.55,"f":2.7},{"s":"DDT","w":7.585,"f":1.2},{"s":"DDT","w":7.61,"f":0.1},{"s":"DDT","w":7.7,"f":0.035},{"s":"DDT","w":7.85,"f":0.03},{"s":"DDT","w":8.0,"f":0.008},{"s":"DDT","w":8.1,"f":0.005},{"s":"DDT","w":8.2,"f":0.094},{"s":"DDT","w":8.25,"f":0.29},{"s":"DDT","w":8.32,"f":0.45},{"s":"DDT","w":8.42,"f":0.49},{"s":"DDT","w":8.52,"f":0.4},{"s":"DDT","w":8.62,"f":0.31},{"s":"DDT","w":8.66,"f":0.3},{"s":"DDT","w":8.72,"f":0.6},{"s":"DDT","w":8.8,"f":0.88},{"s":"DDT","w":8.97,"f":0.86},{"s":"DDT","w":9.1,"f":0.835},{"s":"DDT","w":9.18,"f":0.74},{"s":"DDT","w":9.28,"f":0.15},{"s":"DDT","w":9.4,"f":0.01},{"s":"DDT","w":10.0,"f":0.0},{"s":"DDT","w":10.2,"f":0.03},{"s":"DDT","w":10.3,"f":0.2},{"s":"DDT","w":10.45,"f":0.22},{"s":"DDT","w":10.6,"f":0.24},{"s":"DDT","w":10.66,"f":0.5},{"s":"DDT","w":10.72,"f":0.82},{"s":"DDT","w":10.85,"f":0.97},{"s":"DDT","w":10.97,"f":1.03},{"s":"DDT","w":11.05,"f":0.95},{"s":"DDT","w":11.15,"f":0.8},{"s":"DDT","w":11.28,"f":0.35},{"s":"DDT","w":11.37,"f":0.21},{"s":"DDT","w":11.45,"f":0.19},{"s":"DDT","w":11.54,"f":0.58},{"s":"DDT","w":11.65,"f":1.1},{"s":"DDT","w":11.75,"f":1.55},{"s":"DDT","w":11.85,"f":1.76},{"s":"DDT","w":11.92,"f":1.78},{"s":"DDT","w":12.0,"f":1.6},{"s":"DDT","w":12.08,"f":1.1},{"s":"DDT","w":12.15,"f":0.4},{"s":"DDT","w":12.22,"f":0.05},{"s":"DDT","w":12.3,"f":0.015},{"s":"DDT","w":13.0,"f":0.015},{"s":"DDT","w":13.5,"f":0.005},{"s":"DDT","w":14.0,"f":0.0}
    ],
    "seg": [
      {"w":0.466,"w2":0.528,"f":1.305,"f2":1.305},{"w":0.466,"w2":0.466,"f":1.305,"f2":1.16},{"w":0.501,"w2":0.501,"f":1.305,"f2":0.903},{"w":0.528,"w2":0.528,"f":1.305,"f2":0.903},
      {"w":0.5896,"w2":0.659,"f":0.3694,"f2":0.3694},{"w":0.5896,"w2":0.5896,"f":0.3694,"f2":0.2736},{"w":0.659,"w2":0.659,"f":0.3694,"f2":0.2332},
      {"w":0.715,"w2":0.715,"f":0.87,"f2":0.75},{"w":0.729,"w2":0.729,"f":0.846,"f2":0.726},
      {"w":0.79,"w2":0.79,"f":0.436,"f2":0.335},
      {"w":0.865,"w2":0.865,"f":0.514,"f2":0.41},
      {"w":0.907,"w2":0.954,"f":0.856,"f2":0.856},{"w":0.907,"w2":0.907,"f":0.856,"f2":0.534},{"w":0.954,"w2":0.954,"f":0.856,"f2":0.743},
      {"w":1.019,"w2":1.019,"f":0.48,"f2":0.405},
      {"w":1.258,"w2":1.258,"f":0.404,"f2":0.305},
      {"w":1.544,"w2":1.544,"f":0.315,"f2":0.221},
      {"w":1.646,"w2":1.811,"f":0.402,"f2":0.402},{"w":1.646,"w2":1.646,"f":0.402,"f2":0.301},{"w":1.811,"w2":1.811,"f":0.402,"f2":0.196},
      {"w":2.221,"w2":2.873,"f":0.2643,"f2":0.2643},{"w":2.221,"w2":2.221,"f":0.2643,"f2":0.1692},{"w":2.355,"w2":2.355,"f":0.2643,"f2":0.1308},{"w":2.873,"w2":2.873,"f":0.2643,"f2":0.1443},
      {"w":3.204,"w2":3.204,"f":0.385,"f2":0.29},
      {"w":6.99,"w2":6.99,"f":1.172,"f2":1.06},
      {"w":7.355,"w2":7.355,"f":2.67,"f2":2.41},
      {"w":7.8,"w2":7.8,"f":0.323,"f2":0.233},
      {"w":10.52,"w2":10.52,"f":0.86,"f2":0.76},
      {"w":11.0,"w2":11.0,"f":1.31,"f2":1.17},
      {"w":12.82,"w2":12.82,"f":3.83,"f2":3.46}
    ],
    "ann": [
      {"w":0.494,"f":1.61,"t":"[Fe III]"},
      {"w":0.621,"f":0.567,"t":"[Co III]"},
      {"w":0.695,"f":1.112,"t":"[Ar III]"},
      {"w":0.741,"f":1.076,"t":"[Ca II]"},
      {"w":0.79,"f":0.631,"t":"[Ni III]"},
      {"w":0.865,"f":0.673,"t":"Ca II"},
      {"w":0.935,"f":1.078,"t":"[S III]"},
      {"w":1.019,"f":0.702,"t":"[Co II]"},
      {"w":1.258,"f":0.583,"t":"[Fe II]"},
      {"w":1.544,"f":0.494,"t":"[Co II]"},
      {"w":1.725,"f":0.581,"t":"[Fe II]"},
      {"w":2.524,"f":0.451,"t":"[Fe III]"},
      {"w":3.204,"f":0.585,"t":"[Ca IV]"},
      {"w":6.783,"f":1.485,"t":"[Ar II]"},
      {"w":7.89,"f":3.19,"t":"[Ni III]"},
      {"w":7.93,"f":0.514,"t":"[Fe III]"},
      {"w":10.3,"f":1.093,"t":"[S IV]"},
      {"w":11.04,"f":1.61,"t":"[Ni III]"}
    ],
    "hann": [
      {"w":12.37,"f":4.1,"t":"[Ne II]"},
      {"w":8.39,"f":0.679,"t":"(1)"},
      {"w":8.99,"f":1.046,"t":"(2)"},
      {"w":11.89,"f":2.74,"t":"(3)"}
    ],
    "ins": [
      {"p":1,"s":"SN 2021aefx","v":-14.5,"n":0.25},{"p":1,"s":"SN 2021aefx","v":-14.0,"n":0.244},{"p":1,"s":"SN 2021aefx","v":-12.9,"n":0.215},{"p":1,"s":"SN 2021aefx","v":-11.7,"n":0.193},{"p":1,"s":"SN 2021aefx","v":-10.5,"n":0.176},{"p":1,"s":"SN 2021aefx","v":-7.7,"n":0.185},{"p":1,"s":"SN 2021aefx","v":-7.0,"n":0.27},{"p":1,"s":"SN 2021aefx","v":-6.0,"n":0.336},{"p":1,"s":"SN 2021aefx","v":-5.2,"n":0.4},{"p":1,"s":"SN 2021aefx","v":-4.2,"n":0.54},{"p":1,"s":"SN 2021aefx","v":-3.4,"n":0.706},{"p":1,"s":"SN 2021aefx","v":-2.4,"n":0.857},{"p":1,"s":"SN 2021aefx","v":-1.5,"n":0.94},{"p":1,"s":"SN 2021aefx","v":-0.3,"n":0.99},{"p":1,"s":"SN 2021aefx","v":0.5,"n":1.0},{"p":1,"s":"SN 2021aefx","v":1.3,"n":1.03},{"p":1,"s":"SN 2021aefx","v":2.5,"n":1.04},{"p":1,"s":"SN 2021aefx","v":3.4,"n":1.01},{"p":1,"s":"SN 2021aefx","v":4.4,"n":0.94},{"p":1,"s":"SN 2021aefx","v":5.2,"n":0.857},{"p":1,"s":"SN 2021aefx","v":6.0,"n":0.773},{"p":1,"s":"SN 2021aefx","v":6.8,"n":0.714},{"p":1,"s":"SN 2021aefx","v":7.7,"n":0.697},{"p":1,"s":"SN 2021aefx","v":8.8,"n":0.84},{"p":1,"s":"SN 2021aefx","v":9.6,"n":0.857},{"p":1,"s":"SN 2021aefx","v":10.5,"n":0.958},{"p":1,"s":"SN 2021aefx","v":11.3,"n":1.075},{"p":1,"s":"SN 2021aefx","v":12.3,"n":1.09},{"p":1,"s":"SN 2021aefx","v":13.5,"n":1.08},{"p":1,"s":"SN 2021aefx","v":14.4,"n":1.075},
      {"p":1,"s":"MERGER","v":-14.5,"n":0.075},{"p":1,"s":"MERGER","v":-14.0,"n":0.067},{"p":1,"s":"MERGER","v":-12.9,"n":0.025},{"p":1,"s":"MERGER","v":-11.3,"n":0.02},{"p":1,"s":"MERGER","v":-9.7,"n":0.034},{"p":1,"s":"MERGER","v":-7.7,"n":0.2},{"p":1,"s":"MERGER","v":-6.2,"n":0.47},{"p":1,"s":"MERGER","v":-4.6,"n":0.773},{"p":1,"s":"MERGER","v":-3.4,"n":0.958},{"p":1,"s":"MERGER","v":-2.2,"n":1.008},{"p":1,"s":"MERGER","v":-1.1,"n":1.008},{"p":1,"s":"MERGER","v":0.1,"n":1.0},{"p":1,"s":"MERGER","v":1.3,"n":0.907},{"p":1,"s":"MERGER","v":2.5,"n":0.74},{"p":1,"s":"MERGER","v":4.0,"n":0.47},{"p":1,"s":"MERGER","v":5.6,"n":0.3},{"p":1,"s":"MERGER","v":6.8,"n":0.252},{"p":1,"s":"MERGER","v":7.6,"n":0.269},{"p":1,"s":"MERGER","v":8.4,"n":0.47},{"p":1,"s":"MERGER","v":9.2,"n":0.907},{"p":1,"s":"MERGER","v":9.6,"n":1.15},
      {"p":1,"s":"DBLEDET","v":-14.5,"n":0.05},{"p":1,"s":"DBLEDET","v":-14.0,"n":0.042},{"p":1,"s":"DBLEDET","v":-11.7,"n":0.008},{"p":1,"s":"DBLEDET","v":-9.7,"n":0.008},{"p":1,"s":"DBLEDET","v":-7.7,"n":0.067},{"p":1,"s":"DBLEDET","v":-6.2,"n":0.336},{"p":1,"s":"DBLEDET","v":-5.0,"n":0.605},{"p":1,"s":"DBLEDET","v":-3.4,"n":0.857},{"p":1,"s":"DBLEDET","v":-1.8,"n":0.958},{"p":1,"s":"DBLEDET","v":0.1,"n":1.0},{"p":1,"s":"DBLEDET","v":1.7,"n":0.975},{"p":1,"s":"DBLEDET","v":3.3,"n":0.824},{"p":1,"s":"DBLEDET","v":4.8,"n":0.605},{"p":1,"s":"DBLEDET","v":6.0,"n":0.454},{"p":1,"s":"DBLEDET","v":6.8,"n":0.407},{"p":1,"s":"DBLEDET","v":7.6,"n":0.47},{"p":1,"s":"DBLEDET","v":8.4,"n":0.706},{"p":1,"s":"DBLEDET","v":9.2,"n":0.99},{"p":1,"s":"DBLEDET","v":9.7,"n":1.15},
      {"p":1,"s":"GCD","v":-14.5,"n":0.09},{"p":1,"s":"GCD","v":-14.0,"n":0.084},{"p":1,"s":"GCD","v":-12.9,"n":0.05},{"p":1,"s":"GCD","v":-10.9,"n":0.067},{"p":1,"s":"GCD","v":-9.3,"n":0.076},{"p":1,"s":"GCD","v":-8.1,"n":0.084},{"p":1,"s":"GCD","v":-7.0,"n":0.15},{"p":1,"s":"GCD","v":-5.4,"n":0.437},{"p":1,"s":"GCD","v":-3.8,"n":0.74},{"p":1,"s":"GCD","v":-2.2,"n":0.907},{"p":1,"s":"GCD","v":-0.7,"n":0.99},{"p":1,"s":"GCD","v":0.5,"n":1.0},{"p":1,"s":"GCD","v":1.7,"n":0.924},{"p":1,"s":"GCD","v":2.9,"n":0.74},{"p":1,"s":"GCD","v":4.0,"n":0.504},{"p":1,"s":"GCD","v":5.2,"n":0.269},{"p":1,"s":"GCD","v":6.4,"n":0.126},{"p":1,"s":"GCD","v":7.2,"n":0.092},{"p":1,"s":"GCD","v":8.0,"n":0.118},{"p":1,"s":"GCD","v":8.8,"n":0.269},{"p":1,"s":"GCD","v":9.6,"n":0.571},{"p":1,"s":"GCD","v":10.2,"n":0.874},{"p":1,"s":"GCD","v":10.6,"n":1.15},
      {"p":1,"s":"DDT","v":-14.5,"n":0.03},{"p":1,"s":"DDT","v":-14.0,"n":0.025},{"p":1,"s":"DDT","v":-12.5,"n":0.013},{"p":1,"s":"DDT","v":-11.3,"n":0.02},{"p":1,"s":"DDT","v":-10.1,"n":0.1},{"p":1,"s":"DDT","v":-8.9,"n":0.32},{"p":1,"s":"DDT","v":-7.7,"n":0.54},{"p":1,"s":"DDT","v":-6.6,"n":0.605},{"p":1,"s":"DDT","v":-5.4,"n":0.672},{"p":1,"s":"DDT","v":-3.8,"n":0.773},{"p":1,"s":"DDT","v":-2.2,"n":0.89},{"p":1,"s":"DDT","v":-0.7,"n":0.983},{"p":1,"s":"DDT","v":0.5,"n":1.0},{"p":1,"s":"DDT","v":1.7,"n":0.958},{"p":1,"s":"DDT","v":2.9,"n":0.857},{"p":1,"s":"DDT","v":4.0,"n":0.74},{"p":1,"s":"DDT","v":5.2,"n":0.655},{"p":1,"s":"DDT","v":6.4,"n":0.625},{"p":1,"s":"DDT","v":7.4,"n":0.622},{"p":1,"s":"DDT","v":8.4,"n":0.672},{"p":1,"s":"DDT","v":9.6,"n":0.79},{"p":1,"s":"DDT","v":10.7,"n":0.924},{"p":1,"s":"DDT","v":11.9,"n":1.126},{"p":1,"s":"DDT","v":12.1,"n":1.15},
      {"p":2,"s":"SN 2021aefx","v":-14.5,"n":0.907},{"p":2,"s":"SN 2021aefx","v":-14.2,"n":0.857},{"p":2,"s":"SN 2021aefx","v":-13.7,"n":0.807},{"p":2,"s":"SN 2021aefx","v":-12.9,"n":0.773},{"p":2,"s":"SN 2021aefx","v":-12.1,"n":0.723},{"p":2,"s":"SN 2021aefx","v":-11.3,"n":0.672},{"p":2,"s":"SN 2021aefx","v":-10.5,"n":0.64},{"p":2,"s":"SN 2021aefx","v":-9.8,"n":0.672},{"p":2,"s":"SN 2021aefx","v":-9.3,"n":0.773},{"p":2,"s":"SN 2021aefx","v":-8.6,"n":0.907},{"p":2,"s":"SN 2021aefx","v":-7.8,"n":0.958},{"p":2,"s":"SN 2021aefx","v":-6.8,"n":0.975},{"p":2,"s":"SN 2021aefx","v":-5.6,"n":0.99},{"p":2,"s":"SN 2021aefx","v":-4.4,"n":0.983},{"p":2,"s":"SN 2021aefx","v":-3.2,"n":0.97},{"p":2,"s":"SN 2021aefx","v":-2.0,"n":0.975},{"p":2,"s":"SN 2021aefx","v":-0.7,"n":0.975},{"p":2,"s":"SN 2021aefx","v":0.1,"n":1.0},{"p":2,"s":"SN 2021aefx","v":1.3,"n":1.03},{"p":2,"s":"SN 2021aefx","v":2.5,"n":1.034},{"p":2,"s":"SN 2021aefx","v":3.7,"n":1.04},{"p":2,"s":"SN 2021aefx","v":5.0,"n":1.045},{"p":2,"s":"SN 2021aefx","v":6.2,"n":1.05},{"p":2,"s":"SN 2021aefx","v":7.4,"n":1.059},{"p":2,"s":"SN 2021aefx","v":8.5,"n":1.059},{"p":2,"s":"SN 2021aefx","v":9.0,"n":1.01},{"p":2,"s":"SN 2021aefx","v":9.4,"n":0.807},{"p":2,"s":"SN 2021aefx","v":10.2,"n":0.672},{"p":2,"s":"SN 2021aefx","v":11.1,"n":0.605},{"p":2,"s":"SN 2021aefx","v":11.9,"n":0.504},{"p":2,"s":"SN 2021aefx","v":12.7,"n":0.403},{"p":2,"s":"SN 2021aefx","v":13.5,"n":0.302},{"p":2,"s":"SN 2021aefx","v":14.3,"n":0.235},
      {"p":2,"s":"MERGER","v":-14.5,"n":0.235},{"p":2,"s":"MERGER","v":-13.3,"n":0.134},{"p":2,"s":"MERGER","v":-12.4,"n":0.076},{"p":2,"s":"MERGER","v":-11.3,"n":0.084},{"p":2,"s":"MERGER","v":-10.5,"n":0.2},{"p":2,"s":"MERGER","v":-9.7,"n":0.403},{"p":2,"s":"MERGER","v":-8.9,"n":0.655},{"p":2,"s":"MERGER","v":-8.0,"n":0.84},{"p":2,"s":"MERGER","v":-6.8,"n":0.94},{"p":2,"s":"MERGER","v":-5.2,"n":0.97},{"p":2,"s":"MERGER","v":-3.2,"n":0.988},{"p":2,"s":"MERGER","v":-1.5,"n":0.995},{"p":2,"s":"MERGER","v":0.1,"n":1.0},{"p":2,"s":"MERGER","v":2.1,"n":0.983},{"p":2,"s":"MERGER","v":3.7,"n":0.95},{"p":2,"s":"MERGER","v":5.0,"n":0.874},{"p":2,"s":"MERGER","v":6.2,"n":0.706},{"p":2,"s":"MERGER","v":7.4,"n":0.47},{"p":2,"s":"MERGER","v":8.6,"n":0.269},{"p":2,"s":"MERGER","v":10.2,"n":0.134},{"p":2,"s":"MERGER","v":11.9,"n":0.067},{"p":2,"s":"MERGER","v":13.5,"n":0.025},{"p":2,"s":"MERGER","v":14.5,"n":0.01},
      {"p":2,"s":"DBLEDET","v":-14.5,"n":0.4},{"p":2,"s":"DBLEDET","v":-13.3,"n":0.319},{"p":2,"s":"DBLEDET","v":-12.1,"n":0.252},{"p":2,"s":"DBLEDET","v":-11.3,"n":0.269},{"p":2,"s":"DBLEDET","v":-10.5,"n":0.47},{"p":2,"s":"DBLEDET","v":-9.7,"n":0.773},{"p":2,"s":"DBLEDET","v":-8.9,"n":0.975},{"p":2,"s":"DBLEDET","v":-7.6,"n":1.022},{"p":2,"s":"DBLEDET","v":-6.0,"n":1.022},{"p":2,"s":"DBLEDET","v":-4.0,"n":1.013},{"p":2,"s":"DBLEDET","v":-2.0,"n":1.008},{"p":2,"s":"DBLEDET","v":0.1,"n":1.0},{"p":2,"s":"DBLEDET","v":2.1,"n":0.99},{"p":2,"s":"DBLEDET","v":4.6,"n":0.978},{"p":2,"s":"DBLEDET","v":6.2,"n":0.97},{"p":2,"s":"DBLEDET","v":7.4,"n":0.94},{"p":2,"s":"DBLEDET","v":8.2,"n":0.857},{"p":2,"s":"DBLEDET","v":9.0,"n":0.689},{"p":2,"s":"DBLEDET","v":9.8,"n":0.47},{"p":2,"s":"DBLEDET","v":11.1,"n":0.252},{"p":2,"s":"DBLEDET","v":12.3,"n":0.16},{"p":2,"s":"DBLEDET","v":13.5,"n":0.1},{"p":2,"s":"DBLEDET","v":14.5,"n":0.067},
      {"p":2,"s":"GCD","v":-14.5,"n":0.16},{"p":2,"s":"GCD","v":-13.3,"n":0.084},{"p":2,"s":"GCD","v":-12.1,"n":0.037},{"p":2,"s":"GCD","v":-11.3,"n":0.05},{"p":2,"s":"GCD","v":-10.5,"n":0.134},{"p":2,"s":"GCD","v":-9.7,"n":0.336},{"p":2,"s":"GCD","v":-8.9,"n":0.605},{"p":2,"s":"GCD","v":-8.0,"n":0.824},{"p":2,"s":"GCD","v":-7.2,"n":0.95},{"p":2,"s":"GCD","v":-6.0,"n":1.008},{"p":2,"s":"GCD","v":-4.4,"n":1.012},{"p":2,"s":"GCD","v":-2.0,"n":1.008},{"p":2,"s":"GCD","v":0.1,"n":1.0},{"p":2,"s":"GCD","v":2.1,"n":0.99},{"p":2,"s":"GCD","v":4.1,"n":0.97},{"p":2,"s":"GCD","v":5.4,"n":0.924},{"p":2,"s":"GCD","v":6.6,"n":0.773},{"p":2,"s":"GCD","v":7.4,"n":0.571},{"p":2,"s":"GCD","v":8.2,"n":0.319},{"p":2,"s":"GCD","v":9.4,"n":0.1},{"p":2,"s":"GCD","v":10.7,"n":0.025},{"p":2,"s":"GCD","v":12.3,"n":0.008},{"p":2,"s":"GCD","v":14.5,"n":0.003},
      {"p":2,"s":"DDT","v":-14.5,"n":0.437},{"p":2,"s":"DDT","v":-13.3,"n":0.361},{"p":2,"s":"DDT","v":-12.4,"n":0.35},{"p":2,"s":"DDT","v":-11.3,"n":0.37},{"p":2,"s":"DDT","v":-10.1,"n":0.47},{"p":2,"s":"DDT","v":-8.9,"n":0.689},{"p":2,"s":"DDT","v":-7.6,"n":0.89},{"p":2,"s":"DDT","v":-6.4,"n":0.975},{"p":2,"s":"DDT","v":-4.8,"n":1.008},{"p":2,"s":"DDT","v":-2.8,"n":1.008},{"p":2,"s":"DDT","v":0.1,"n":1.0},{"p":2,"s":"DDT","v":2.1,"n":0.988},{"p":2,"s":"DDT","v":3.7,"n":0.955},{"p":2,"s":"DDT","v":4.6,"n":0.907},{"p":2,"s":"DDT","v":5.8,"n":0.74},{"p":2,"s":"DDT","v":7.0,"n":0.504},{"p":2,"s":"DDT","v":8.2,"n":0.336},{"p":2,"s":"DDT","v":9.4,"n":0.218},{"p":2,"s":"DDT","v":11.1,"n":0.118},{"p":2,"s":"DDT","v":12.7,"n":0.05},{"p":2,"s":"DDT","v":14.5,"n":0.008},
      {"p":3,"s":"SN 2021aefx","v":-14.5,"n":0.12},{"p":3,"s":"SN 2021aefx","v":-13.4,"n":0.1},{"p":3,"s":"SN 2021aefx","v":-12.2,"n":0.084},{"p":3,"s":"SN 2021aefx","v":-11.0,"n":0.076},{"p":3,"s":"SN 2021aefx","v":-9.8,"n":0.092},{"p":3,"s":"SN 2021aefx","v":-9.0,"n":0.134},{"p":3,"s":"SN 2021aefx","v":-8.1,"n":0.235},{"p":3,"s":"SN 2021aefx","v":-7.3,"n":0.336},{"p":3,"s":"SN 2021aefx","v":-6.5,"n":0.454},{"p":3,"s":"SN 2021aefx","v":-5.7,"n":0.571},{"p":3,"s":"SN 2021aefx","v":-4.9,"n":0.672},{"p":3,"s":"SN 2021aefx","v":-4.1,"n":0.773},{"p":3,"s":"SN 2021aefx","v":-3.3,"n":0.857},{"p":3,"s":"SN 2021aefx","v":-2.5,"n":0.924},{"p":3,"s":"SN 2021aefx","v":-1.7,"n":0.95},{"p":3,"s":"SN 2021aefx","v":-0.9,"n":0.975},{"p":3,"s":"SN 2021aefx","v":0.0,"n":1.0},{"p":3,"s":"SN 2021aefx","v":0.5,"n":1.034},{"p":3,"s":"SN 2021aefx","v":1.3,"n":1.055},{"p":3,"s":"SN 2021aefx","v":2.1,"n":1.025},{"p":3,"s":"SN 2021aefx","v":2.9,"n":0.907},{"p":3,"s":"SN 2021aefx","v":3.7,"n":0.807},{"p":3,"s":"SN 2021aefx","v":4.5,"n":0.672},{"p":3,"s":"SN 2021aefx","v":5.3,"n":0.538},{"p":3,"s":"SN 2021aefx","v":6.1,"n":0.403},{"p":3,"s":"SN 2021aefx","v":6.9,"n":0.286},{"p":3,"s":"SN 2021aefx","v":7.7,"n":0.185},{"p":3,"s":"SN 2021aefx","v":8.5,"n":0.1},{"p":3,"s":"SN 2021aefx","v":9.4,"n":0.067},{"p":3,"s":"SN 2021aefx","v":10.4,"n":0.054},{"p":3,"s":"SN 2021aefx","v":11.6,"n":0.07},{"p":3,"s":"SN 2021aefx","v":12.8,"n":0.076},{"p":3,"s":"SN 2021aefx","v":14.3,"n":0.08},
      {"p":3,"s":"MERGER","v":-14.5,"n":0.09},{"p":3,"s":"MERGER","v":-13.0,"n":0.025},{"p":3,"s":"MERGER","v":-11.4,"n":0.013},{"p":3,"s":"MERGER","v":-9.8,"n":0.05},{"p":3,"s":"MERGER","v":-8.1,"n":0.235},{"p":3,"s":"MERGER","v":-6.5,"n":0.521},{"p":3,"s":"MERGER","v":-4.9,"n":0.79},{"p":3,"s":"MERGER","v":-3.3,"n":0.958},{"p":3,"s":"MERGER","v":-2.1,"n":1.008},{"p":3,"s":"MERGER","v":-0.9,"n":1.0},{"p":3,"s":"MERGER","v":0.3,"n":0.975},{"p":3,"s":"MERGER","v":1.9,"n":0.857},{"p":3,"s":"MERGER","v":3.5,"n":0.655},{"p":3,"s":"MERGER","v":5.2,"n":0.42},{"p":3,"s":"MERGER","v":6.8,"n":0.218},{"p":3,"s":"MERGER","v":8.4,"n":0.084},{"p":3,"s":"MERGER","v":9.6,"n":0.042},{"p":3,"s":"MERGER","v":10.8,"n":0.067},{"p":3,"s":"MERGER","v":12.0,"n":0.134},{"p":3,"s":"MERGER","v":13.2,"n":0.235},{"p":3,"s":"MERGER","v":14.4,"n":0.319},
      {"p":3,"s":"DBLEDET","v":-14.5,"n":0.034},{"p":3,"s":"DBLEDET","v":-12.6,"n":0.017},{"p":3,"s":"DBLEDET","v":-11.0,"n":0.017},{"p":3,"s":"DBLEDET","v":-9.4,"n":0.067},{"p":3,"s":"DBLEDET","v":-7.7,"n":0.269},{"p":3,"s":"DBLEDET","v":-6.1,"n":0.571},{"p":3,"s":"DBLEDET","v":-4.5,"n":0.807},{"p":3,"s":"DBLEDET","v":-2.9,"n":0.95},{"p":3,"s":"DBLEDET","v":-1.3,"n":1.0},{"p":3,"s":"DBLEDET","v":0.0,"n":1.0},{"p":3,"s":"DBLEDET","v":1.1,"n":0.95},{"p":3,"s":"DBLEDET","v":2.7,"n":0.773},{"p":3,"s":"DBLEDET","v":4.4,"n":0.521},{"p":3,"s":"DBLEDET","v":6.0,"n":0.302},{"p":3,"s":"DBLEDET","v":7.6,"n":0.134},{"p":3,"s":"DBLEDET","v":9.2,"n":0.05},{"p":3,"s":"DBLEDET","v":10.8,"n":0.017},{"p":3,"s":"DBLEDET","v":12.4,"n":0.008},{"p":3,"s":"DBLEDET","v":14.4,"n":0.008},
      {"p":3,"s":"GCD","v":-14.5,"n":0.034},{"p":3,"s":"GCD","v":-12.6,"n":0.017},{"p":3,"s":"GCD","v":-11.0,"n":0.013},{"p":3,"s":"GCD","v":-9.4,"n":0.05},{"p":3,"s":"GCD","v":-7.7,"n":0.235},{"p":3,"s":"GCD","v":-6.1,"n":0.538},{"p":3,"s":"GCD","v":-4.5,"n":0.79},{"p":3,"s":"GCD","v":-2.9,"n":0.933},{"p":3,"s":"GCD","v":-1.3,"n":0.99},{"p":3,"s":"GCD","v":-0.2,"n":1.0},{"p":3,"s":"GCD","v":1.1,"n":0.94},{"p":3,"s":"GCD","v":2.7,"n":0.756},{"p":3,"s":"GCD","v":4.4,"n":0.496},{"p":3,"s":"GCD","v":6.0,"n":0.269},{"p":3,"s":"GCD","v":7.6,"n":0.118},{"p":3,"s":"GCD","v":9.2,"n":0.034},{"p":3,"s":"GCD","v":10.8,"n":0.017},{"p":3,"s":"GCD","v":12.0,"n":0.059},{"p":3,"s":"GCD","v":13.2,"n":0.067},{"p":3,"s":"GCD","v":14.4,"n":0.067},
      {"p":3,"s":"DDT","v":-14.5,"n":0.37},{"p":3,"s":"DDT","v":-13.4,"n":0.235},{"p":3,"s":"DDT","v":-12.2,"n":0.143},{"p":3,"s":"DDT","v":-11.0,"n":0.109},{"p":3,"s":"DDT","v":-9.8,"n":0.143},{"p":3,"s":"DDT","v":-8.5,"n":0.269},{"p":3,"s":"DDT","v":-6.9,"n":0.487},{"p":3,"s":"DDT","v":-5.3,"n":0.706},{"p":3,"s":"DDT","v":-3.7,"n":0.874},{"p":3,"s":"DDT","v":-2.1,"n":0.975},{"p":3,"s":"DDT","v":-0.5,"n":1.0},{"p":3,"s":"DDT","v":1.0,"n":0.988},{"p":3,"s":"DDT","v":2.3,"n":0.907},{"p":3,"s":"DDT","v":4.0,"n":0.74},{"p":3,"s":"DDT","v":5.6,"n":0.504},{"p":3,"s":"DDT","v":7.2,"n":0.269},{"p":3,"s":"DDT","v":8.8,"n":0.1},{"p":3,"s":"DDT","v":10.4,"n":0.034},{"p":3,"s":"DDT","v":12.0,"n":0.013},{"p":3,"s":"DDT","v":14.4,"n":0.005}
    ]
  },
  "resolve": {"scale": {"x": "independent", "y": "independent"}},
  "layer": [
    {
      "layer": [
        {
          "data": {"name": "obs"},
          "mark": {"type": "line", "strokeWidth": 1.4, "clip": true},
          "encoding": {
            "x": {"field": "w", "type": "quantitative", "scale": {"type": "log", "domain": [0.3505, 14], "nice": false}, "axis": null},
            "y": {"field": "f", "type": "quantitative", "scale": {"type": "symlog", "constant": 1, "domain": [0, 4.61], "nice": false}, "axis": null},
            "color": {"field": "s", "type": "nominal", "scale": {"domain": ["SN 2021aefx", "DDT", "GCD", "DBLEDET", "MERGER"], "range": ["#000000", "#4477AA", "#EE6677", "#228833", "#CCBB44"]}, "legend": {"title": null}}
          }
        },
        {
          "data": {"name": "mod"},
          "mark": {"type": "line", "interpolate": "monotone", "strokeWidth": 2, "clip": true},
          "encoding": {
            "x": {
              "field": "w", "type": "quantitative",
              "scale": {"type": "log", "domain": [0.3505, 14], "nice": false},
              "axis": {
                "orient": "bottom",
                "values": [0.4, 0.5, 0.6, 0.7, 0.8, 0.9, 1, 1.5, 2, 3, 4, 5, 6, 7, 8, 9, 10, 11, 12, 13, 14],
                "labelExpr": "(datum.value == 11 || datum.value == 13) ? '' : format(datum.value, '~g')",
                "tickSize": {"condition": {"test": "datum.value == 11 || datum.value == 13", "value": -4}, "value": -7},
                "labelPadding": 15,
                "title": "Wavelength [μm]",
                "titleFontSize": 19,
                "titlePadding": 8
              }
            },
            "y": {
              "field": "f", "type": "quantitative",
              "scale": {"type": "symlog", "constant": 1, "domain": [0, 4.61], "nice": false},
              "axis": {
                "orient": "left",
                "values": [0, 0.1, 0.2, 0.3, 0.4, 0.5, 0.6, 0.7, 0.8, 0.9, 1, 1.1, 1.2, 1.3, 1.4, 1.5, 1.6, 1.7, 1.8, 1.9, 2, 2.1, 2.2, 2.3, 2.4, 2.5, 2.6, 2.7, 2.8, 2.9, 3, 3.1, 3.2, 3.3, 3.4, 3.5, 3.6, 3.7, 3.8, 3.9, 4, 4.1, 4.2, 4.3, 4.4, 4.5, 4.6],
                "labelExpr": "abs(datum.value * 2 - round(datum.value * 2)) < 0.001 ? format(datum.value, '.1f') : ''",
                "tickSize": {"condition": {"test": "abs(datum.value * 2 - round(datum.value * 2)) > 0.001", "value": -4}, "value": -7},
                "labelPadding": 15,
                "title": "Fν at 18 Mpc [mJy]",
                "titleFontSize": 19,
                "titlePadding": 8
              }
            },
            "color": {
              "field": "s", "type": "nominal",
              "scale": {"domain": ["SN 2021aefx", "DDT", "GCD", "DBLEDET", "MERGER"], "range": ["#000000", "#4477AA", "#EE6677", "#228833", "#CCBB44"]},
              "legend": {"title": null}
            }
          }
        },
        {
          "data": {"name": "seg"},
          "mark": {"type": "rule", "color": "#969696", "strokeWidth": 1.5},
          "encoding": {
            "x": {"field": "w", "type": "quantitative", "scale": {"type": "log", "domain": [0.3505, 14], "nice": false}, "axis": null},
            "x2": {"field": "w2"},
            "y": {"field": "f", "type": "quantitative", "scale": {"type": "symlog", "constant": 1, "domain": [0, 4.61], "nice": false}, "axis": null},
            "y2": {"field": "f2"}
          }
        },
        {
          "data": {"name": "ann"},
          "mark": {"type": "text", "angle": 270, "font": "DejaVu Serif", "fontSize": 14, "color": "#a3a3a3"},
          "encoding": {
            "x": {"field": "w", "type": "quantitative", "scale": {"type": "log", "domain": [0.3505, 14], "nice": false}, "axis": null},
            "y": {"field": "f", "type": "quantitative", "scale": {"type": "symlog", "constant": 1, "domain": [0, 4.61], "nice": false}, "axis": null},
            "text": {"field": "t"}
          }
        },
        {
          "data": {"name": "hann"},
          "mark": {"type": "text", "font": "DejaVu Serif", "fontSize": 17},
          "encoding": {
            "x": {"field": "w", "type": "quantitative", "scale": {"type": "log", "domain": [0.3505, 14], "nice": false}, "axis": null},
            "y": {"field": "f", "type": "quantitative", "scale": {"type": "symlog", "constant": 1, "domain": [0, 4.61], "nice": false}, "axis": null},
            "text": {"field": "t"},
            "color": {"condition": {"test": "datum.t == '[Ne II]'", "value": "#a3a3a3"}, "value": "#000000"}
          }
        },
        {
          "data": {"name": "seg"},
          "mark": {"type": "point", "opacity": 0},
          "encoding": {
            "x": {
              "field": "w", "type": "quantitative",
              "scale": {"type": "log", "domain": [0.3505, 14], "nice": false},
              "axis": {
                "orient": "top", "labels": false, "title": null,
                "values": [0.4, 0.5, 0.6, 0.7, 0.8, 0.9, 1, 1.5, 2, 3, 4, 5, 6, 7, 8, 9, 10, 11, 12, 13, 14],
                "tickSize": {"condition": {"test": "datum.value == 11 || datum.value == 13", "value": -4}, "value": -7}
              }
            },
            "y": {
              "field": "f", "type": "quantitative",
              "scale": {"type": "symlog", "constant": 1, "domain": [0, 4.61], "nice": false},
              "axis": {
                "orient": "right", "labels": false, "title": null,
                "values": [0, 0.1, 0.2, 0.3, 0.4, 0.5, 0.6, 0.7, 0.8, 0.9, 1, 1.1, 1.2, 1.3, 1.4, 1.5, 1.6, 1.7, 1.8, 1.9, 2, 2.1, 2.2, 2.3, 2.4, 2.5, 2.6, 2.7, 2.8, 2.9, 3, 3.1, 3.2, 3.3, 3.4, 3.5, 3.6, 3.7, 3.8, 3.9, 4, 4.1, 4.2, 4.3, 4.4, 4.5, 4.6],
                "tickSize": {"condition": {"test": "abs(datum.value * 2 - round(datum.value * 2)) > 0.001", "value": -4}, "value": -7}
              }
            }
          }
        }
      ]
    },
    {
      "layer": [
        {
          "data": {"name": "ins"},
          "transform": [{"filter": "datum.p == 1 && datum.s == 'SN 2021aefx'"}],
          "mark": {"type": "line", "interpolate": "step", "strokeWidth": 1.4},
          "encoding": {
            "x": {"field": "v", "type": "quantitative", "scale": {"domain": [-14.5, 14.5], "range": [400, 523], "nice": false, "zero": false},
              "axis": {"orient": "bottom", "offset": -274, "values": [-14, -12, -10, -8, -6, -4, -2, 0, 2, 4, 6, 8, 10, 12, 14],
                "labelExpr": "datum.value % 10 == 0 ? format(datum.value, 'd') : ''",
                "tickSize": {"condition": {"test": "datum.value % 10 != 0", "value": -3}, "value": -6},
                "labelPadding": 12, "title": null}},
            "y": {"field": "n", "type": "quantitative", "scale": {"domain": [0, 1.15], "range": [296, 68], "nice": false},
              "axis": {"orient": "left", "offset": -400, "values": [0, 0.1, 0.2, 0.3, 0.4, 0.5, 0.6, 0.7, 0.8, 0.9, 1, 1.1],
                "labelExpr": "abs(datum.value * 2 - round(datum.value * 2)) < 0.001 ? format(datum.value, '.1f') : ''",
                "tickSize": {"condition": {"test": "abs(datum.value * 2 - round(datum.value * 2)) > 0.001", "value": -3}, "value": -6},
                "labelPadding": 11, "title": "Normalised Flux at v = 0", "titleFontSize": 15, "titlePadding": 6}},
            "color": {"field": "s", "type": "nominal", "legend": {"title": null}}
          }
        },
        {
          "data": {"name": "ins"},
          "transform": [{"filter": "datum.p == 1 && datum.s != 'SN 2021aefx'"}],
          "mark": {"type": "line", "interpolate": "monotone", "strokeWidth": 2},
          "encoding": {
            "x": {"field": "v", "type": "quantitative", "scale": {"domain": [-14.5, 14.5], "range": [400, 523], "nice": false, "zero": false}, "axis": null},
            "y": {"field": "n", "type": "quantitative", "scale": {"domain": [0, 1.15], "range": [296, 68], "nice": false}, "axis": null},
            "color": {"field": "s", "type": "nominal", "legend": {"title": null}}
          }
        },
        {
          "data": {"values": [{"v": 0, "a": 0, "b": 1.15}]},
          "mark": {"type": "rule", "color": "#999999", "strokeWidth": 1.5, "strokeDash": [2, 3]},
          "encoding": {
            "x": {"field": "v", "type": "quantitative", "scale": {"domain": [-14.5, 14.5], "range": [400, 523], "nice": false, "zero": false}, "axis": null},
            "y": {"field": "a", "type": "quantitative", "scale": {"domain": [0, 1.15], "range": [296, 68], "nice": false}, "axis": null},
            "y2": {"field": "b"}
          }
        },
        {
          "data": {"name": "ins"},
          "transform": [{"filter": "datum.p == 1"}],
          "mark": {"type": "point", "opacity": 0},
          "encoding": {
            "x": {"field": "v", "type": "quantitative", "scale": {"domain": [-14.5, 14.5], "range": [400, 523], "nice": false, "zero": false},
              "axis": {"orient": "top", "offset": -68, "labels": false, "values": [-14, -12, -10, -8, -6, -4, -2, 0, 2, 4, 6, 8, 10, 12, 14],
                "tickSize": {"condition": {"test": "datum.value % 10 != 0", "value": -3}, "value": -6},
                "title": ["(1)", "[Ni IV] 8.40 μm"], "titleFontSize": 15, "titleLineHeight": 20, "titlePadding": 3}},
            "y": {"field": "n", "type": "quantitative", "scale": {"domain": [0, 1.15], "range": [296, 68], "nice": false},
              "axis": {"orient": "right", "offset": -575, "labels": false, "title": null, "values": [0, 0.1, 0.2, 0.3, 0.4, 0.5, 0.6, 0.7, 0.8, 0.9, 1, 1.1],
                "tickSize": {"condition": {"test": "abs(datum.value * 2 - round(datum.value * 2)) > 0.001", "value": -3}, "value": -6}}}
          }
        }
      ]
    },
    {
      "layer": [
        {
          "data": {"name": "ins"},
          "transform": [{"filter": "datum.p == 2 && datum.s == 'SN 2021aefx'"}],
          "mark": {"type": "line", "interpolate": "step", "strokeWidth": 1.4},
          "encoding": {
            "x": {"field": "v", "type": "quantitative", "scale": {"domain": [-14.5, 14.5], "range": [570, 690], "nice": false, "zero": false},
              "axis": {"orient": "bottom", "offset": -274, "values": [-14, -12, -10, -8, -6, -4, -2, 0, 2, 4, 6, 8, 10, 12, 14],
                "labelExpr": "datum.value % 10 == 0 ? format(datum.value, 'd') : ''",
                "tickSize": {"condition": {"test": "datum.value % 10 != 0", "value": -3}, "value": -6},
                "labelPadding": 12, "title": "Doppler Velocity [1000 km s⁻¹]", "titleFontSize": 15, "titlePadding": 8}},
            "y": {"field": "n", "type": "quantitative", "scale": {"domain": [0, 1.15], "range": [296, 68], "nice": false},
              "axis": {"orient": "left", "offset": -570, "values": [0, 0.1, 0.2, 0.3, 0.4, 0.5, 0.6, 0.7, 0.8, 0.9, 1, 1.1],
                "labelExpr": "abs(datum.value * 2 - round(datum.value * 2)) < 0.001 ? format(datum.value, '.1f') : ''",
                "tickSize": {"condition": {"test": "abs(datum.value * 2 - round(datum.value * 2)) > 0.001", "value": -3}, "value": -6},
                "labelPadding": 11, "title": null}},
            "color": {"field": "s", "type": "nominal", "legend": {"title": null}}
          }
        },
        {
          "data": {"name": "ins"},
          "transform": [{"filter": "datum.p == 2 && datum.s != 'SN 2021aefx'"}],
          "mark": {"type": "line", "interpolate": "monotone", "strokeWidth": 2},
          "encoding": {
            "x": {"field": "v", "type": "quantitative", "scale": {"domain": [-14.5, 14.5], "range": [570, 690], "nice": false, "zero": false}, "axis": null},
            "y": {"field": "n", "type": "quantitative", "scale": {"domain": [0, 1.15], "range": [296, 68], "nice": false}, "axis": null},
            "color": {"field": "s", "type": "nominal", "legend": {"title": null}}
          }
        },
        {
          "data": {"values": [{"v": 0, "a": 0, "b": 1.15}]},
          "mark": {"type": "rule", "color": "#999999", "strokeWidth": 1.5, "strokeDash": [2, 3]},
          "encoding": {
            "x": {"field": "v", "type": "quantitative", "scale": {"domain": [-14.5, 14.5], "range": [570, 690], "nice": false, "zero": false}, "axis": null},
            "y": {"field": "a", "type": "quantitative", "scale": {"domain": [0, 1.15], "range": [296, 68], "nice": false}, "axis": null},
            "y2": {"field": "b"}
          }
        },
        {
          "data": {"name": "ins"},
          "transform": [{"filter": "datum.p == 2"}],
          "mark": {"type": "point", "opacity": 0},
          "encoding": {
            "x": {"field": "v", "type": "quantitative", "scale": {"domain": [-14.5, 14.5], "range": [570, 690], "nice": false, "zero": false},
              "axis": {"orient": "top", "offset": -68, "labels": false, "values": [-14, -12, -10, -8, -6, -4, -2, 0, 2, 4, 6, 8, 10, 12, 14],
                "tickSize": {"condition": {"test": "datum.value % 10 != 0", "value": -3}, "value": -6},
                "title": ["(2)", "[Ar III] 8.99 μm"], "titleFontSize": 15, "titleLineHeight": 20, "titlePadding": 3}},
            "y": {"field": "n", "type": "quantitative", "scale": {"domain": [0, 1.15], "range": [296, 68], "nice": false},
              "axis": {"orient": "right", "offset": -408, "labels": false, "title": null, "values": [0, 0.1, 0.2, 0.3, 0.4, 0.5, 0.6, 0.7, 0.8, 0.9, 1, 1.1],
                "tickSize": {"condition": {"test": "abs(datum.value * 2 - round(datum.value * 2)) > 0.001", "value": -3}, "value": -6}}}
          }
        }
      ]
    },
    {
      "layer": [
        {
          "data": {"name": "ins"},
          "transform": [{"filter": "datum.p == 3 && datum.s == 'SN 2021aefx'"}],
          "mark": {"type": "line", "interpolate": "step", "strokeWidth": 1.4},
          "encoding": {
            "x": {"field": "v", "type": "quantitative", "scale": {"domain": [-14.5, 14.5], "range": [739, 859], "nice": false, "zero": false},
              "axis": {"orient": "bottom", "offset": -274, "values": [-14, -12, -10, -8, -6, -4, -2, 0, 2, 4, 6, 8, 10, 12, 14],
                "labelExpr": "datum.value % 10 == 0 ? format(datum.value, 'd') : ''",
                "tickSize": {"condition": {"test": "datum.value % 10 != 0", "value": -3}, "value": -6},
                "labelPadding": 12, "title": null}},
            "y": {"field": "n", "type": "quantitative", "scale": {"domain": [0, 1.15], "range": [296, 68], "nice": false},
              "axis": {"orient": "left", "offset": -739, "values": [0, 0.1, 0.2, 0.3, 0.4, 0.5, 0.6, 0.7, 0.8, 0.9, 1, 1.1],
                "labelExpr": "abs(datum.value * 2 - round(datum.value * 2)) < 0.001 ? format(datum.value, '.1f') : ''",
                "tickSize": {"condition": {"test": "abs(datum.value * 2 - round(datum.value * 2)) > 0.001", "value": -3}, "value": -6},
                "labelPadding": 11, "title": null}},
            "color": {"field": "s", "type": "nominal", "legend": {"title": null}}
          }
        },
        {
          "data": {"name": "ins"},
          "transform": [{"filter": "datum.p == 3 && datum.s != 'SN 2021aefx'"}],
          "mark": {"type": "line", "interpolate": "monotone", "strokeWidth": 2},
          "encoding": {
            "x": {"field": "v", "type": "quantitative", "scale": {"domain": [-14.5, 14.5], "range": [739, 859], "nice": false, "zero": false}, "axis": null},
            "y": {"field": "n", "type": "quantitative", "scale": {"domain": [0, 1.15], "range": [296, 68], "nice": false}, "axis": null},
            "color": {"field": "s", "type": "nominal", "legend": {"title": null}}
          }
        },
        {
          "data": {"values": [{"v": 0, "a": 0, "b": 1.15}]},
          "mark": {"type": "rule", "color": "#999999", "strokeWidth": 1.5, "strokeDash": [2, 3]},
          "encoding": {
            "x": {"field": "v", "type": "quantitative", "scale": {"domain": [-14.5, 14.5], "range": [739, 859], "nice": false, "zero": false}, "axis": null},
            "y": {"field": "a", "type": "quantitative", "scale": {"domain": [0, 1.15], "range": [296, 68], "nice": false}, "axis": null},
            "y2": {"field": "b"}
          }
        },
        {
          "data": {"name": "ins"},
          "transform": [{"filter": "datum.p == 3"}],
          "mark": {"type": "point", "opacity": 0},
          "encoding": {
            "x": {"field": "v", "type": "quantitative", "scale": {"domain": [-14.5, 14.5], "range": [739, 859], "nice": false, "zero": false},
              "axis": {"orient": "top", "offset": -68, "labels": false, "values": [-14, -12, -10, -8, -6, -4, -2, 0, 2, 4, 6, 8, 10, 12, 14],
                "tickSize": {"condition": {"test": "datum.value % 10 != 0", "value": -3}, "value": -6},
                "title": ["(3)", "[Co III] 11.89 μm"], "titleFontSize": 15, "titleLineHeight": 20, "titlePadding": 3}},
            "y": {"field": "n", "type": "quantitative", "scale": {"domain": [0, 1.15], "range": [296, 68], "nice": false},
              "axis": {"orient": "right", "offset": -239, "labels": false, "title": null, "values": [0, 0.1, 0.2, 0.3, 0.4, 0.5, 0.6, 0.7, 0.8, 0.9, 1, 1.1],
                "tickSize": {"condition": {"test": "abs(datum.value * 2 - round(datum.value * 2)) > 0.001", "value": -3}, "value": -6}}}
          }
        }
      ]
    }
  ]
}
